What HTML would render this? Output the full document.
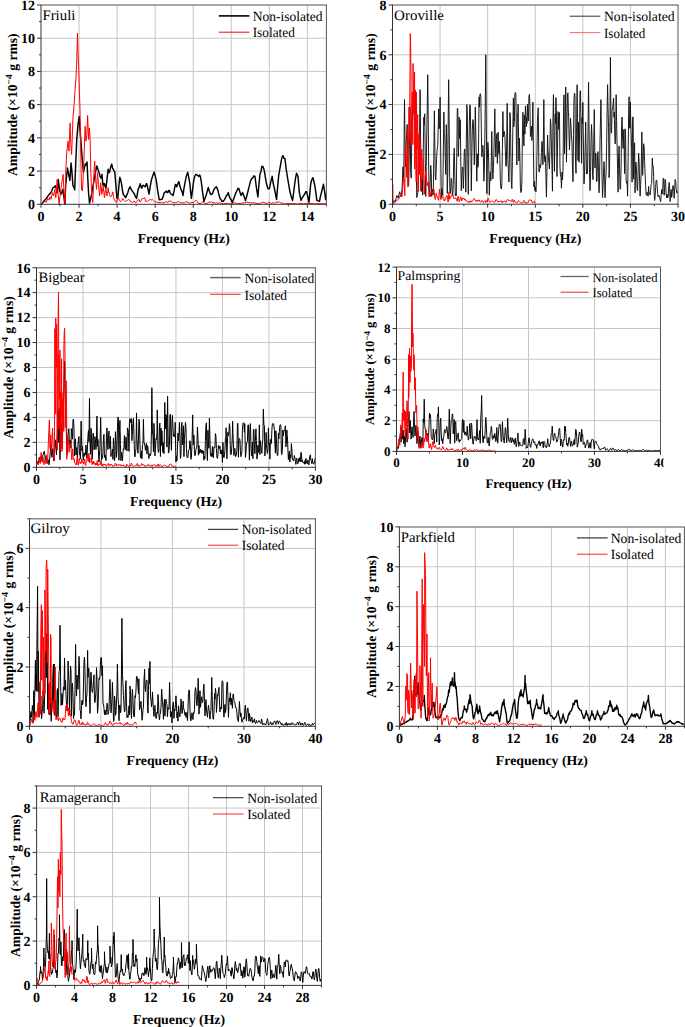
<!DOCTYPE html>
<html><head><meta charset="utf-8"><style>
html,body{margin:0;padding:0;background:#fff;overflow:hidden;}
svg{display:block;}
text{font-family:"Liberation Serif",serif;fill:#000;text-rendering:geometricPrecision;}
.tk{font-weight:bold;}
.ax{font-weight:bold;}
</style></head><body>
<svg width="685" height="1027" viewBox="0 0 685 1027">
<rect width="685" height="1027" fill="#fff"/>
<clipPath id="c0"><rect x="41" y="4" width="285.4" height="200.8"/></clipPath>
<path d="M79.05 5V204.3M117.11 5V204.3M155.16 5V204.3M193.21 5V204.3M231.27 5V204.3M269.32 5V204.3M307.37 5V204.3M41 171.08H326.4M41 137.87H326.4M41 104.65H326.4M41 71.43H326.4M41 38.22H326.4" stroke="#c6c6c6" stroke-width="1" fill="none"/>
<text x="42.4" y="19.6" class="lg" style="font-size:14.5px" textLength="33" lengthAdjust="spacingAndGlyphs">Friuli</text>
<path d="M218.8 15.9H249.4" stroke="#000" stroke-width="1.6"/>
<path d="M218.8 32.2H249.4" stroke="#f00" stroke-width="1.0"/>
<text x="252.7" y="20.9" class="lg" style="font-size:14px" textLength="69.8" lengthAdjust="spacingAndGlyphs">Non-isolated</text>
<text x="252.7" y="37.4" class="lg" style="font-size:14px" textLength="42.1" lengthAdjust="spacingAndGlyphs">Isolated</text>
<g clip-path="url(#c0)"><path d="M41 204.3 41.57 203.84 42.14 203.64 44.14 200.65 46.14 198.65 48.23 195.54 50.32 193.34 51.65 191.09 52.99 187.69 54.22 187.18 55.46 185.7 56.22 188.45 56.98 192.84 57.65 187.41 58.31 179.55 58.89 184.3 59.46 190.68 60.22 191.93 60.98 194.34 61.93 191.91 62.88 189.35 63.55 194.69 64.21 199.32 64.5 201.91 64.78 203.97 65.26 194.61 65.73 184.37 66.59 176.41 67.45 168.09 68.68 174.31 69.92 180.55 70.49 171.56 71.06 162.95 72.01 172.64 72.96 185.7 73.82 187.1 74.68 189.85 75.72 164.01 76.77 139.2 78.01 124.34 79.24 116.44 80 129.84 80.77 139.2 82.1 157.38 83.43 172.25 84.38 167.66 85.33 163.94 86.19 164.91 87.04 161.95 87.81 178.86 88.57 192.84 89.04 197.97 89.52 203.14 90.56 198.78 91.61 194.34 92.47 188.44 93.32 184.37 95.04 174.72 96.75 165.93 96.97 166.41 97.19 167.01 98.28 170.3 99.38 173.58 100.11 176.59 100.84 177.96 101.42 177.72 102.01 174.31 102.52 180.69 103.03 185.26 103.76 184.03 104.49 183.8 105.22 186.72 105.95 188.18 107.04 179.08 108.14 169.2 108.87 172.49 109.6 172.12 110.69 166.82 111.79 164.09 112.52 168.03 113.25 169.2 113.98 171.16 114.71 171.39 115.8 183.92 116.9 198.39 117.48 196.92 118.07 195.47 118.94 185.51 119.82 177.23 120.55 179.37 121.28 182.34 122.01 186.88 122.74 192.55 123.47 194.76 124.2 195.47 124.93 196.5 125.66 197.66 126.75 195.1 127.85 192.55 128.94 188.83 130.04 186.72 131.13 189.21 132.23 191.09 133.32 192.36 134.42 194.01 135.51 196.93 136.61 198.39 137.34 194.22 138.07 189.64 139.16 187.14 140.26 183.8 140.99 186.85 141.72 188.18 142.45 185.96 143.18 185.26 144.27 186.28 145.36 186.72 146.09 184.05 146.82 183.8 147.92 188.7 149.01 194.01 150.11 187.2 151.2 180.88 152.66 176.05 154.12 172.12 155.22 175.93 156.31 180.88 157.77 191.1 159.23 199.85 160.69 199.57 162.15 199.12 163.25 196.28 164.34 192.55 165.44 192.02 166.53 191.09 167.26 192.63 167.99 192.55 168.72 190.51 169.45 190.36 170.18 192.75 170.91 194.01 172.01 194.44 173.1 195.47 174.2 190.43 175.29 184.53 176.02 184.69 176.75 186.72 177.85 183.74 178.94 181.61 180.04 186.54 181.13 189.64 182.08 191.89 183.03 195.47 183.91 188.67 184.78 183.8 186.24 176.7 187.7 172.12 188.8 177.74 189.89 183.8 190.62 191.82 191.35 198.39 192.5 190.3 193.65 180.88 194.74 176.25 195.84 174.31 196.93 174.86 198.03 175.77 198.76 176.46 199.49 175.04 200.22 176.01 200.95 179.42 201.68 184.9 202.41 191.09 203.14 196.09 203.87 201.31 204.96 198.58 206.06 195.47 207.15 191.64 208.25 187.45 209.34 191.27 210.44 194.01 211.53 194.5 212.63 193.28 213.72 189.95 214.82 188.18 215.55 187.52 216.28 186.72 217.01 188.07 217.74 189.64 218.83 194.34 219.93 198.39 221.02 199.51 222.12 201.31 223.21 201.2 224.31 199.85 225.4 197.86 226.5 195.47 227.37 194.87 228.25 192.55 229.2 196.12 230.15 198.39 231.24 199.98 232.34 202.77 233.07 200.38 233.8 198.39 234.89 195.6 235.99 192.55 237.08 190.31 238.18 188.18 238.91 188.83 239.64 191.09 240.36 193.58 241.09 195.47 241.82 193.85 242.55 192.55 244.01 196.27 245.47 200.58 246.57 196.8 247.66 192.55 249.12 186.67 250.58 180.88 251.68 178.62 252.77 177.96 253.87 175.93 254.96 176.5 256.42 187.55 257.88 196.93 258.98 184.16 260.07 173.58 260.95 171.78 261.82 166.28 262.77 166.37 263.72 168.47 264.82 173.63 265.91 180.88 267.01 185.82 268.1 188.91 268.83 188.72 269.56 188.18 270.88 181.39 272.19 176.34 273.07 182.75 273.94 186.41 275.26 192.73 276.57 199.54 277.66 186.59 278.76 175.03 280.07 167.53 281.39 160.14 282.17 156.8 282.96 155.59 283.93 158.3 284.89 158.39 286.2 169.2 287.52 177.65 288.83 185.44 290.15 192.54 291.37 197 292.6 200.42 293.56 193.27 294.52 185.53 295.53 178.07 296.54 173.27 297.28 174.78 298.03 176.78 298.69 185.07 299.34 192.54 300.22 196.85 301.09 200.42 301.97 198.01 302.85 196.92 303.94 195.26 305.04 193.42 305.82 191.61 306.61 191.66 307.79 196.89 308.98 202.17 309.85 192.94 310.73 183.78 311.82 179.57 312.92 177.65 314.01 181.8 315.11 187.29 315.98 193.71 316.86 200.42 318.17 200.95 319.49 201.3 320.36 196.77 321.24 193.42 322.33 189.02 323.43 184.22 324.52 191.04 325.62 199.54 326.28 195.91 326.93 190.79" stroke="#000" stroke-width="1.45" fill="none" stroke-linejoin="round"/><path d="M41 204.3 42.9 202.97 44.81 200.98 46.33 202.31 47.66 198.49 48.99 200.15 49.94 196.83 51.08 199.32 52.42 192.67 53.56 196 54.7 189.35 55.84 197.66 57.17 179.39 58.12 194.34 59.08 204.3 60.41 192.67 61.55 184.37 63.07 174.41 64.21 196 65.16 204.3 65.92 167.76 66.69 152.81 68.02 141.19 68.97 151.15 70.11 122.92 70.87 144.51 71.63 154.48 72.96 117.94 74.11 104.65 75.06 89.7 76.01 78.08 76.58 64.79 77.53 33.23 78.1 54.82 78.67 66.45 79.43 91.36 80 109.63 80.77 154.48 81.53 189.35 82.48 191.01 83.81 162.78 85.14 126.24 85.9 141.19 86.85 134.55 87.62 115.45 88.57 139.53 89.33 127.9 90.09 137.87 90.85 172.74 91.61 194.34 92.75 202.64 93.89 174.41 94.66 161.12 95.61 179.39 96.56 189.35 97.51 172.74 98.46 184.37 99.6 196 100.74 182.71 101.89 194.34 103.22 186.03 103.6 191.13 103.98 191.08 104.36 197.66 104.8 195.81 105.25 190.33 105.69 189.35 106.13 189.19 106.58 194.38 107.02 196 107.4 193.59 107.78 191.33 108.16 187.69 108.61 192.69 109.05 192.25 109.5 194.34 110 196.21 110.51 196.63 111.02 196 111.53 196.25 112.03 194.99 112.54 191.84 112.98 192.29 113.43 196.51 113.87 198.32 114.32 200.03 114.76 199.82 115.2 200.98 115.65 201.34 116.09 201.88 116.54 202.81 117.04 199.69 117.55 200.05 118.06 196.83 118.69 198.69 119.33 200.29 119.96 200.98 120.91 201.59 121.86 200.38 122.81 198.49 123.77 199.93 124.72 201 125.67 201.81 126.62 200.67 127.57 200.29 128.52 199.32 129.47 199.83 130.43 201.71 131.38 201.81 132.33 202.42 133.28 201.69 134.23 200.98 134.86 202.52 135.5 202.38 136.13 202.64 136.77 201.9 137.4 200.4 138.04 200.15 138.99 199.37 139.94 201.94 140.89 200.98 141.84 198.72 142.79 198.47 143.74 198.32 144.7 197.69 145.65 201.43 146.6 201.31 147.55 201.26 148.5 200.53 149.45 200.15 150.4 199.1 151.35 200.2 152.31 199.32 153.26 200.3 154.21 201.57 155.16 201.81 156.43 202.2 157.7 202.34 158.97 202.64 160.23 202.62 161.5 202.47 162.77 202.97 164.04 203.1 165.31 201.91 166.58 201.81 167.84 202.53 169.11 200.97 170.38 200.98 171.65 201.63 172.92 202.89 174.19 202.64 175.46 202.72 176.72 202.77 177.99 201.31 179.26 202.16 180.53 202.62 181.8 202.97 183.07 202.61 184.33 203.13 185.6 201.81 186.87 201.61 188.14 202.74 189.41 202.64 190.68 203.18 191.94 202.12 193.21 202.97 194.16 201.8 195.12 200.67 196.07 200.15 197.02 201.18 197.97 202.96 198.92 203.47 200.19 203.57 201.46 203.03 202.73 201.81 204 202.7 205.26 203.54 206.53 203.47 207.8 203.12 209.07 201.77 210.34 202.31 211.61 201.92 212.87 202.91 214.14 202.64 215.41 203.28 216.68 202.69 217.95 203.47 219.22 202.62 220.48 203.16 221.75 203.3 223.66 203.77 225.56 203.5 227.46 203.47 229.36 203.99 231.27 203.47 233.17 203.3 235.07 202.69 236.97 203.91 238.88 203.47 240.78 203.4 242.68 202.9 244.59 202.97 246.49 202.01 248.39 202.5 250.29 202.64 252.2 202.97 254.1 202.8 256 203.3 257.9 203.45 259.81 203.62 261.71 202.64 263.61 202.23 265.51 203.14 267.42 203.3 269.32 202.31 271.22 203.46 273.13 202.64 274.39 203.52 275.66 202.39 276.93 202.31 278.2 202.15 279.47 201.93 280.74 203.14 282.64 203.01 284.54 204.05 286.44 203.47 288.98 203.43 291.52 203.76 294.05 203.64 297.23 204.19 300.4 203.25 303.57 203.8 306.74 203.47 309.91 203.33 313.08 203.8 317.52 203.69 321.96 203.62 326.4 203.97" stroke="#f00" stroke-width="1.0" fill="none" stroke-linejoin="round"/></g>
<path d="M40.5 5H326.9" stroke="#8a8a8a" stroke-width="1.5" fill="none"/>
<path d="M326.4 5V204.3" stroke="#555" stroke-width="1" fill="none"/>
<path d="M41 5V204.3M40.5 204.3H326.9" stroke="#333" stroke-width="1" fill="none"/>
<path d="M41 204.3v3.5M79.05 204.3v3.5M117.11 204.3v3.5M155.16 204.3v3.5M193.21 204.3v3.5M231.27 204.3v3.5M269.32 204.3v3.5M307.37 204.3v3.5M60.03 204.3v2M98.08 204.3v2M136.13 204.3v2M174.19 204.3v2M212.24 204.3v2M250.29 204.3v2M288.35 204.3v2M326.4 204.3v2M41 204.3h-4M41 171.08h-4M41 137.87h-4M41 104.65h-4M41 71.43h-4M41 38.22h-4M41 5h-4M41 187.69h-2M41 154.48h-2M41 121.26h-2M41 88.04h-2M41 54.82h-2M41 21.61h-2" stroke="#333" stroke-width="1" fill="none"/>
<text x="41" y="221.1" class="tk" style="font-size:14px" text-anchor="middle">0</text>
<text x="79.05" y="221.1" class="tk" style="font-size:14px" text-anchor="middle">2</text>
<text x="117.11" y="221.1" class="tk" style="font-size:14px" text-anchor="middle">4</text>
<text x="155.16" y="221.1" class="tk" style="font-size:14px" text-anchor="middle">6</text>
<text x="193.21" y="221.1" class="tk" style="font-size:14px" text-anchor="middle">8</text>
<text x="231.27" y="221.1" class="tk" style="font-size:14px" text-anchor="middle">10</text>
<text x="269.32" y="221.1" class="tk" style="font-size:14px" text-anchor="middle">12</text>
<text x="307.37" y="221.1" class="tk" style="font-size:14px" text-anchor="middle">14</text>
<text x="35" y="209.1" class="tk" style="font-size:14px" text-anchor="end">0</text>
<text x="35" y="175.88" class="tk" style="font-size:14px" text-anchor="end">2</text>
<text x="35" y="142.67" class="tk" style="font-size:14px" text-anchor="end">4</text>
<text x="35" y="109.45" class="tk" style="font-size:14px" text-anchor="end">6</text>
<text x="35" y="76.23" class="tk" style="font-size:14px" text-anchor="end">8</text>
<text x="35" y="43.02" class="tk" style="font-size:14px" text-anchor="end">10</text>
<text x="35" y="9.8" class="tk" style="font-size:14px" text-anchor="end">12</text>
<text x="183.7" y="242.6" class="ax" style="font-size:13.8px" text-anchor="middle">Frequency (Hz)</text>
<text transform="translate(16.8 104.65) rotate(-90)" class="ax" style="font-size:13.65px" text-anchor="middle">Amplitude (×10<tspan font-size="9.55" dy="-5.05">−4</tspan><tspan dy="5.05"> g rms)</tspan></text>
<clipPath id="c1"><rect x="392.5" y="4" width="285.5" height="200.7"/></clipPath>
<path d="M440.08 5V204.2M487.67 5V204.2M535.25 5V204.2M582.83 5V204.2M630.42 5V204.2M392.5 154.4H678M392.5 104.6H678M392.5 54.8H678" stroke="#c6c6c6" stroke-width="1" fill="none"/>
<text x="394.1" y="20" class="lg" style="font-size:14.5px" textLength="49.9" lengthAdjust="spacingAndGlyphs">Oroville</text>
<path d="M569.7 16.2H600.3" stroke="#333" stroke-width="1.0"/>
<path d="M569.7 32.6H600.3" stroke="#f66" stroke-width="1.0"/>
<text x="604" y="21.3" class="lg" style="font-size:14px" textLength="70.6" lengthAdjust="spacingAndGlyphs">Non-isolated</text>
<text x="604" y="37.6" class="lg" style="font-size:14px" textLength="41.4" lengthAdjust="spacingAndGlyphs">Isolated</text>
<g clip-path="url(#c1)"><path d="M392.5 204.2 393.93 200.46 395.36 201.71 396.78 195.48 398.21 197.97 399.64 191.75 401.06 196.73 402.02 189.26 402.97 166.85 403.73 181.79 404.49 99.62 405.35 166.85 406.3 141.95 407.16 124.52 407.92 174.32 408.2 184.28 408.7 185.53 409.2 156.83 409.71 121.14 409.92 107.09 410.21 128.5 410.71 172.51 411.21 178.09 411.71 142.66 412.21 122.87 412.71 119.1 413.21 100.36 413.71 95.87 414.21 95.93 414.71 96.69 415.21 97.6 415.34 92.15 415.72 111.85 416.22 162.07 416.72 197.54 417.22 195.9 417.72 192.56 418.22 186.73 418.72 169.94 419.22 160.79 419.72 118.62 420.1 89.66 420.22 99.8 420.72 149.71 421.23 191.08 421.73 191.49 422.23 176.69 422.73 195.09 423.23 152.28 423.73 122.32 423.9 117.05 424.23 124.88 424.73 113.83 425.23 155.82 425.73 196.51 426.23 166.9 426.73 135.04 427.24 108.64 427.71 74.72 427.74 76.59 428.24 119.63 428.74 172.59 429.24 195.03 429.74 193.7 430.24 180.98 430.74 165.3 431.24 173.62 431.74 196.35 432.24 189.24 432.75 194.25 433.25 194.87 433.75 159.36 434.25 120.58 434.37 110.82 434.75 140.85 435.25 176.22 435.75 180.02 436.25 169.51 436.75 154.14 437.25 148.74 437.75 145.19 438.26 125.23 438.76 108.93 439.26 128.71 439.76 121.77 440.08 97.13 440.26 111.62 440.76 154.9 441.26 197.6 441.76 188.51 442.26 192.24 442.76 195.51 443.26 158.1 443.76 122.09 443.89 112.07 444.27 134.47 444.77 136.08 445.27 159.26 445.77 174.43 446.27 124.66 446.77 140.89 447.27 193.55 447.77 174.35 448.27 113.08 448.65 79.7 448.77 89.03 449.27 133.52 449.78 187.57 450.28 193.48 450.78 186.66 451.28 178.33 451.78 181 452.28 196.15 452.78 194.14 453.28 184.67 453.78 157.15 454.28 148.16 454.78 171.74 455.28 195.61 455.79 193.36 456.29 195.54 456.79 152.37 457.29 108.57 457.79 108.5 458.29 156.58 458.79 140.66 459.12 117.05 459.29 129.97 459.79 138.5 460.29 119.81 460.79 162.23 461.3 190.88 461.8 174.93 462.3 166.88 462.8 167.94 463.3 188.48 463.8 174.72 464.3 150.86 464.8 148.97 465.3 166.92 465.8 192.17 466.3 140.09 466.81 104.54 467.31 111.89 467.81 158.6 468.31 194.35 468.81 158.41 469.31 124.01 469.81 104.79 470.31 105.96 470.81 138.74 471.31 190.81 471.81 157.42 472.31 130.27 472.82 119.61 473.32 122.12 473.82 141.4 474.32 164.77 474.82 139.12 475.29 107.09 475.32 108.43 475.82 131.9 476.32 161.53 476.82 181.28 477.32 153.73 477.82 167.42 478.33 165.61 478.83 118.03 479.1 97.13 479.33 107.09 479.83 95.02 480.33 93.7 480.83 96.45 481.33 129.92 481.83 156.79 482.33 152.2 482.83 145.39 483.33 153.61 483.83 181.19 484.34 172.65 484.84 138.34 485.34 96.07 485.76 54.8 485.84 62.74 486.34 123.12 486.84 193.77 487.34 160.79 487.84 142.27 488.34 148.16 488.84 169.2 489.34 195.19 489.85 179.09 490.35 171.87 490.85 180.72 491.35 156.98 491.76 131.49 491.85 136.77 492.35 167.33 492.85 179.03 493.35 169.66 493.85 155.09 494.35 133.01 494.8 108.83 494.85 111.63 495.36 142.83 495.86 157.01 496.36 139.57 496.86 133.61 497.36 163.39 497.86 149.09 498.13 132.24 498.36 144.85 498.86 153.44 499.36 141.37 499.86 159.51 500.36 181.7 500.86 188.02 501.37 189.01 501.87 183.62 502.37 149.58 502.87 113.43 502.89 111.57 503.37 136.91 503.87 131.72 504.37 131.58 504.87 136.53 505.37 149.69 505.87 166.18 506.37 166.11 506.88 128.91 507.18 103.36 507.38 120.55 507.88 159.46 508.38 169.66 508.88 182.05 509.38 159.98 509.88 112.55 510.38 117.96 510.88 154.26 511.38 184.44 511.88 188.59 512.38 161.7 512.89 125.5 513.39 97.93 513.89 126.83 514.31 118.79 514.39 120.19 514.89 94.04 515.39 92.4 515.89 93.95 516.39 141.07 516.89 165.01 517.39 113.85 517.89 114.46 518.12 104.35 518.4 123.36 518.9 161 519.4 138 519.9 156.43 520.4 188.31 520.9 192.6 521.4 191.72 521.9 180.91 522.4 136.45 522.9 112.32 523.4 129.59 523.91 145.83 524.4 115.06 524.41 115.39 524.91 134.22 525.41 106.21 525.91 117.23 526.41 126.6 526.68 117.8 526.91 123.48 527.41 104.36 527.91 117.64 528.41 120.94 528.91 96.77 529.41 94.27 529.92 104.23 530.42 136.47 530.92 134.81 531.42 126.16 531.92 140.42 532.42 133.17 532.87 102.11 532.92 106 533.42 150.69 533.92 186.84 534.42 181.25 534.92 190.64 535.43 186.83 535.93 191.87 536.43 180.22 536.93 155.75 537.43 120.74 537.93 113.01 538.11 107.84 538.43 122.41 538.93 171.35 539.43 172.15 539.93 164.53 540.43 167.61 540.93 164.51 541.44 152.55 541.94 141.38 542.44 145.38 542.94 164.68 543.44 134.08 543.82 99.62 543.94 109.56 544.44 156.09 544.94 161.99 545.44 155.68 545.94 177.53 546.44 197.16 546.95 171.26 547.45 143.46 547.62 134.98 547.95 148.75 548.45 158.06 548.95 163.54 549.45 169.02 549.95 145.97 550.45 118.91 550.95 125 551.45 147.33 551.95 165.67 552.46 191.21 552.96 120.93 553.46 94.54 553.96 131.57 554.46 171.32 554.96 131.46 555.24 114.06 555.46 123.36 555.96 97.61 556.46 115.3 556.96 176.53 557.46 150.28 557.96 117.83 558.09 111.57 558.47 129.26 558.97 114.48 559.47 112.5 559.97 167.09 560.47 176.2 560.97 177.39 561.47 188.21 561.97 172.11 562.47 179.78 562.97 170.89 563.47 119.02 563.98 94.8 564.48 153.75 564.98 140.33 565.48 99.67 565.7 86.92 565.98 108.14 566.48 162.19 566.98 124.3 567.48 93.37 567.98 92.76 568.48 115.3 568.56 113.31 568.98 133.06 569.48 149.95 569.99 133.39 570.49 117.92 570.99 125.52 571.49 137 571.99 143.14 572.49 167.91 572.99 181.67 573.49 135.61 573.99 98.14 574.49 93.02 574.99 95.71 575.5 161.62 576 173.4 576.5 133.29 577 94.04 577.12 84.68 577.5 118.46 578 160.39 578.5 122.09 579 162.23 579.5 136.96 580 91.5 580.5 90.61 581.01 123.12 581.51 163.37 582.01 117.74 582.51 124.16 582.83 102.36 583.01 116.55 583.51 149.82 584.01 183.85 584.51 174.37 585.01 153.94 585.51 131.43 585.69 122.03 586.01 144.09 586.51 174.06 587.02 172.69 587.52 173.42 588.02 131.14 588.52 84.38 588.54 82.19 589.02 122.6 589.52 172.54 590.02 190.61 590.52 174.81 591.02 139.44 591.52 124.49 592.02 137.67 592.53 174.28 593.03 179.75 593.53 157.23 594.03 126.76 594.25 109.58 594.53 131.82 595.03 167.87 595.53 153.01 596.03 154.45 596.53 181.4 597.03 181.24 597.53 154.82 598.03 151.63 598.54 172.53 599.04 192.76 599.54 178.95 600.04 140.53 600.54 116.33 600.91 99.62 601.04 105.56 601.54 139.13 602.04 177.11 602.54 197.47 603.04 186.57 603.54 172.19 604.05 161.7 604.55 172.85 605.05 197.8 605.55 180.57 606.05 174.17 606.55 150.96 607.05 113.54 607.55 85.89 607.58 84.68 608.05 107.9 608.55 127.19 609.05 177.69 609.56 169.21 610.06 105.74 610.43 57.29 610.56 73.05 611.06 131.65 611.56 133.19 612.06 110.7 612.56 107.29 613.06 104.64 613.56 97.97 614.06 117.39 614.24 112.07 614.56 125.95 615.06 143.92 615.57 142.02 616.07 100.63 616.14 94.64 616.57 120.62 617.07 143.17 617.57 168.38 618.07 192.13 618.57 157.11 619.07 146.01 619.57 169.72 620.07 189.31 620.57 188.83 621.08 166.31 621.58 125.6 622.08 117.01 622.58 137.97 623.08 148.47 623.58 135.32 623.75 129.5 624.08 143.86 624.58 173.57 625.08 128.82 625.58 134.15 626.08 180 626.58 183.2 627.09 181.48 627.59 196.24 628.09 163.39 628.59 113.62 629.09 96.76 629.59 128.07 630.09 128.13 630.42 102.11 630.59 114.63 631.09 131.89 631.59 147.79 632.09 182.1 632.6 117.72 633.1 116.82 633.6 179.13 634.1 151.57 634.6 142.77 635.1 192.75 635.6 163.33 636.1 162.11 636.6 174.41 637.1 188.48 637.6 190.63 638.11 170.14 638.61 153.23 639.11 161.45 639.61 181.89 640.11 196.14 640.61 184.62 641.11 174.65 641.61 146.17 641.84 131.99 642.11 149.17 642.61 175.37 643.11 162.79 643.61 143.74 644.12 146.72 644.62 161.55 645.12 174.64 645.62 185.65 646.12 194.22 646.62 195.39 647.12 192.17 647.62 193.52 648.12 196.19 648.62 186.43 649.12 193.65 649.63 193.08 650.13 194.91 650.63 190.44 651.13 184.61 651.63 183.58 652.13 163.81 652.31 158.13 652.63 165.73 653.13 165.48 653.63 176.35 654.13 191.88 654.63 200.46 655.13 196.41 655.64 187.3 656.14 180.27 656.64 180.17 657.14 185.69 657.64 193.24 658.14 196.75 658.64 195.71 659.14 195.35 659.64 197.76 660.14 199.93 660.64 201.63 661.15 195.75 661.65 189.54 662.15 194 662.65 193.04 663.15 178.15 663.65 178.61 664.15 195.26 664.65 188.24 665.15 179.32 665.65 183.08 666.15 194.16 666.66 198.01 667.16 194.14 667.66 197.84 668.16 197.1 668.66 186.83 669.16 182.42 669.66 188.93 670.16 201.61 670.66 191.68 671.16 189.52 671.66 197.36 672.16 193.88 672.67 187.08 673.17 185.55 673.67 187.66 674.17 198.31 674.67 189.04 675.17 179.43 675.67 181.39 676.17 188.72 676.67 192.82 677.17 193.17 677.67 192.57 678.18 190.87" stroke="#111" stroke-width="0.95" fill="none" stroke-linejoin="round"/><path d="M392.5 202.95 392.69 184.03 393.07 204.2 394.4 202.95 395.83 201.71 397.26 200.22 398.69 199.22 400.87 193.74 402.02 196.73 403.54 176.81 404.4 186.77 404.8 195.68 405.35 146.93 405.71 151.16 406.3 159.38 406.67 177.44 407.21 133.4 407.73 129.5 407.94 186.93 408.95 108.81 408.96 107.09 409.44 141.06 410.3 33.64 410.5 40.81 411.06 74.72 411.2 145.15 411.72 114.56 411.99 101.11 412.29 92.15 412.8 144.62 413.06 63.51 413.55 104.35 413.82 114.56 414.58 72.23 414.62 169.09 415.25 89.79 415.34 129.5 416.23 182.03 416.29 92.15 416.89 125.99 417.05 149.42 417.72 114.56 417.8 184.96 418.39 191.75 418.45 137.17 419.34 131.99 419.45 174.46 420.01 140.24 420.57 184.28 420.67 191.09 421.53 153.71 421.81 149.42 422.26 179.47 422.76 174.32 423.35 163.48 423.52 157.64 424.09 189.68 424.38 194.24 425.08 176.98 425.81 171.83 427.05 185.77 428.19 181.79 428.85 191.75 429.14 196.72 429.64 192.12 430.14 196.92 430.64 194 431.14 191.05 431.64 191.78 432.14 193.64 432.65 191.44 433.15 190.14 433.65 188.7 434.15 190.83 434.65 196.94 435.15 199.51 435.65 197.83 436.15 194.1 436.28 192.99 436.65 196.39 437.15 196.55 437.65 196.55 438.15 199.92 438.66 200.21 439.16 192.92 439.42 189.26 439.66 191.7 440.16 194.37 440.66 199.22 441.16 199.47 441.66 199.44 442.16 197.64 442.66 196.48 443.16 197.15 443.66 197.22 444.17 201.05 444.67 199.64 445.17 200.11 445.67 199.63 446.17 196.99 446.67 195.67 447.17 195.44 447.67 198.89 448.17 202.04 448.67 194.89 448.93 191.75 449.17 194.67 449.68 199.28 450.18 198.68 450.68 197.2 451.18 195.52 451.68 195.65 452.18 195.63 452.68 194.78 453.18 195.72 453.68 198.43 454.18 198.96 454.68 198.76 455.18 197.8 455.69 197.38 456.19 199.23 456.69 199.31 457.19 201.3 457.69 197.49 458.19 196.27 458.69 198.88 459.19 201.65 459.69 201.26 460.19 198.01 460.69 196.9 461.2 197.93 461.7 200.84 462.2 200.17 462.7 198.21 463.2 198.89 463.7 197.86 464.2 198.54 464.7 200.11 465.2 199.22 465.7 200.61 466.2 200.26 466.7 200.69 467.21 201.9 467.71 201.92 468.21 202.02 468.71 202.51 469.21 201.03 469.71 202.21 470.21 202.23 470.71 200.96 471.21 200.86 471.71 201.9 472.21 201.59 472.72 201.04 473.22 199.75 473.72 198.52 474.22 199.12 474.72 199.15 475.22 200.18 475.72 201.35 476.22 201.02 476.72 200.37 477.22 201.68 477.72 200.35 478.23 200.15 478.73 200.74 479.23 199.87 479.73 201.37 480.23 202.37 480.73 202.02 481.23 201.7 481.73 200.21 482.23 200.79 482.73 201.59 483.23 202.87 483.73 201.51 484.24 201.21 484.74 200.99 485.24 200.55 485.74 202.62 486.24 201.05 486.74 200.5 487.24 201.96 487.74 199.07 488.24 198.06 488.74 199.42 489.24 201.8 489.75 202.19 490.25 202.25 490.75 201.47 491.25 201.11 491.75 201.48 492.25 200.93 492.75 201.05 493.25 201.31 493.75 201.47 494.25 202.67 494.75 202.01 495.25 201.16 495.76 199.76 496.26 199.37 496.76 199.95 497.26 201.08 497.76 202.14 498.26 201.82 498.76 201 499.26 201.57 499.76 201.38 500.26 201.28 500.76 201.59 501.27 200.75 501.77 200.98 502.27 202.9 502.77 201.5 503.27 201.67 503.77 201.86 504.27 201.16 504.77 200.73 505.27 201.79 505.77 202.55 506.27 202.17 506.78 200.59 507.28 199.59 507.78 199.25 508.28 200.13 508.78 200.99 509.28 200.45 509.78 200.28 510.28 201.16 510.78 201.61 511.28 201.6 511.78 200.48 512.28 199.24 512.79 200.67 513.29 202.38 513.79 201.5 514.29 199.93 514.79 201.94 515.29 202.42 515.79 202.21 516.29 202.67 516.79 203.12 517.29 202.37 517.79 201.21 518.3 200.93 518.8 200.88 519.3 201.09 519.8 201.68 520.3 202.52 520.8 202.66 521.3 202.93 521.8 203.16 522.3 202.78 522.8 203.05 523.3 201.21 523.8 200.32 524.31 201.62 524.81 201.91 525.31 203.08 525.81 202.17 526.31 203.12 526.81 202.46 527.31 203.03 527.81 202.9 528.31 202.2 528.81 200.77 529.31 199.8 529.82 200.14 530.32 200.28 530.82 199.84 531.32 200.03 531.82 201.74 532.32 202.91 532.82 202.17 533.32 202.51 533.82 201.56 534.32 201.07 534.82 202.58 535.33 202.32" stroke="#f00" stroke-width="1.0" fill="none" stroke-linejoin="round"/></g>
<path d="M392 5H678.5" stroke="#8a8a8a" stroke-width="1.5" fill="none"/>
<path d="M678 5V204.2" stroke="#555" stroke-width="1" fill="none"/>
<path d="M392.5 5V204.2M392 204.2H678.5" stroke="#333" stroke-width="1" fill="none"/>
<path d="M392.5 204.2v3.5M440.08 204.2v3.5M487.67 204.2v3.5M535.25 204.2v3.5M582.83 204.2v3.5M630.42 204.2v3.5M678 204.2v3.5M416.29 204.2v2M463.88 204.2v2M511.46 204.2v2M559.04 204.2v2M606.62 204.2v2M654.21 204.2v2M392.5 204.2h-4M392.5 154.4h-4M392.5 104.6h-4M392.5 54.8h-4M392.5 5h-4M392.5 179.3h-2M392.5 129.5h-2M392.5 79.7h-2M392.5 29.9h-2" stroke="#333" stroke-width="1" fill="none"/>
<text x="392.5" y="221" class="tk" style="font-size:14px" text-anchor="middle">0</text>
<text x="440.08" y="221" class="tk" style="font-size:14px" text-anchor="middle">5</text>
<text x="487.67" y="221" class="tk" style="font-size:14px" text-anchor="middle">10</text>
<text x="535.25" y="221" class="tk" style="font-size:14px" text-anchor="middle">15</text>
<text x="582.83" y="221" class="tk" style="font-size:14px" text-anchor="middle">20</text>
<text x="630.42" y="221" class="tk" style="font-size:14px" text-anchor="middle">25</text>
<text x="678" y="221" class="tk" style="font-size:14px" text-anchor="middle">30</text>
<text x="386.5" y="209" class="tk" style="font-size:14px" text-anchor="end">0</text>
<text x="386.5" y="159.2" class="tk" style="font-size:14px" text-anchor="end">2</text>
<text x="386.5" y="109.4" class="tk" style="font-size:14px" text-anchor="end">4</text>
<text x="386.5" y="59.6" class="tk" style="font-size:14px" text-anchor="end">6</text>
<text x="386.5" y="9.8" class="tk" style="font-size:14px" text-anchor="end">8</text>
<text x="535.25" y="242.5" class="ax" style="font-size:13.8px" text-anchor="middle">Frequency (Hz)</text>
<text transform="translate(374.9 104.6) rotate(-90)" class="ax" style="font-size:13.65px" text-anchor="middle">Amplitude (×10<tspan font-size="9.55" dy="-5.05">−4</tspan><tspan dy="5.05"> g rms)</tspan></text>
<clipPath id="c2"><rect x="36.5" y="266.7" width="278.9" height="201.1"/></clipPath>
<path d="M82.98 267.7V467.3M129.47 267.7V467.3M175.95 267.7V467.3M222.43 267.7V467.3M268.92 267.7V467.3M36.5 442.35H315.4M36.5 417.4H315.4M36.5 392.45H315.4M36.5 367.5H315.4M36.5 342.55H315.4M36.5 317.6H315.4M36.5 292.65H315.4" stroke="#c6c6c6" stroke-width="1" fill="none"/>
<text x="38.6" y="281.8" class="lg" style="font-size:14.5px" textLength="46" lengthAdjust="spacingAndGlyphs">Bigbear</text>
<path d="M210.2 277.6H240.6" stroke="#666" stroke-width="1.5"/>
<path d="M210.2 294.3H240.6" stroke="#f22" stroke-width="1.0"/>
<text x="244.5" y="282.9" class="lg" style="font-size:14px" textLength="69.8" lengthAdjust="spacingAndGlyphs">Non-isolated</text>
<text x="244.5" y="299.7" class="lg" style="font-size:14px" textLength="42.6" lengthAdjust="spacingAndGlyphs">Isolated</text>
<g clip-path="url(#c2)"><path d="M36.5 464.81 37.43 461.06 38.36 463.56 39.29 457.32 40.22 462.31 41.15 456.07 42.08 461.06 43.01 454.82 44.4 451.08 45.33 459.81 46.26 456.07 47.19 463.56 48.12 459.81 49.05 464.81 49.98 456.07 50.91 443.6 51.84 457.32 52.77 448.59 53.7 461.06 54.63 452.33 55.56 439.86 56.49 454.82 57.42 429.88 57.88 409.92 58.53 442.35 59.28 408.67 59.93 459.81 60.67 436.11 61.42 423.64 62.07 448.59 63 417.4 63.93 386.21 64.58 361.26 65.32 398.69 66.25 429.88 66.99 454.82 67.92 434.87 68.85 428.63 69.5 444.85 69.97 443.69 70.47 440.47 70.97 448.24 71.36 428.63 71.47 430.71 71.97 433.87 72.47 439.17 72.97 419.91 73.47 419.12 73.97 427.78 74.47 455.87 74.97 441.36 75.47 438.84 75.97 455.03 76.47 447.53 76.97 453.65 77.47 458.04 77.97 444.35 78.46 439.28 78.96 436.58 79.46 454.59 79.96 454.8 80.46 459.1 80.96 428.2 81.12 421.14 81.46 436.18 81.96 450.85 82.46 446.5 82.96 456.93 83.46 460.18 83.96 452.79 84.46 456.22 84.96 453.78 85.46 454.54 85.96 445.06 86.46 453.02 86.96 458.37 87.46 446.93 87.96 436.32 88.46 430.49 88.96 441.84 89.46 401.15 89.49 398.44 89.96 440.6 90.46 454.29 90.96 428.27 91.46 434.54 91.96 459.52 92.46 455.87 92.96 433.11 93.46 433.34 93.96 449.88 94.46 449.2 94.96 436.63 95.46 439.68 95.96 449.42 96.46 440.7 96.93 416.15 96.96 417.88 97.46 446.42 97.96 439.45 98.46 451.95 98.96 462.1 99.46 454.83 99.96 446.26 100.46 426.53 100.65 417.4 100.96 433.32 101.46 460.33 101.96 457.84 102.46 458.17 102.96 452.17 103.46 438.33 103.96 434.33 104.46 457.5 104.96 455 105.46 455.94 105.96 460.59 106.45 437.21 106.95 427.86 107.45 440.17 107.95 449.52 108.45 438.36 108.95 431 109.45 447.24 109.95 448.68 110.45 436.31 110.95 456.62 111.45 453.32 111.95 452.71 112.45 449.18 112.95 459.39 113.45 438.06 113.95 444.51 114.45 460.91 114.95 456.95 115.45 431.66 115.95 439.23 116.45 457.44 116.95 450.49 117.45 427.14 117.95 416.95 118.45 419.16 118.95 460.21 119.45 430.38 119.95 420.35 120.45 444.57 120.95 460.64 121.45 452.45 121.95 456.82 122.45 460.68 122.95 452.84 123.45 447.97 123.95 447.44 124.45 435.58 124.95 449.28 125.45 449.94 125.95 437.27 126.45 443.28 126.95 450.96 127.45 427.86 127.95 429.21 128.45 432.55 128.95 451.33 129.45 422.76 129.95 418.65 130.45 421.35 130.95 422.89 131.33 418.65 131.45 423.29 131.95 440.65 132.45 431.21 132.95 422.08 133.45 418.36 133.95 434.81 134.44 451.39 134.94 456.92 135.44 452.49 135.94 449.15 136.44 418.88 136.53 412.91 136.94 438.63 137.44 446.2 137.94 453.25 138.44 440.93 138.94 419.25 139.44 421.79 139.94 442.98 140.44 457.07 140.94 458.19 141.44 451.09 141.94 458.67 142.44 445 142.94 444.15 143.41 419.27 143.44 420.82 143.94 442.33 144.44 442.84 144.94 446.41 145.44 450.33 145.94 446.11 146.44 443.29 146.94 453.9 147.44 445.61 147.94 447.39 148.44 455.6 148.94 458.53 149.44 453.79 149.94 453.9 150.44 455.65 150.94 453.39 151.44 430.78 151.87 387.71 151.94 393.82 152.44 434.25 152.94 435.67 153.44 451.86 153.94 423.41 154.44 436.31 154.94 455.89 155.44 448.68 155.94 438.79 156.44 439.6 156.94 433.94 157.26 409.92 157.44 421.49 157.94 448.62 158.44 452.46 158.94 451.22 159.44 424.72 159.94 423.09 160.44 456.52 160.94 428.1 161.44 445.35 161.94 430.65 162.43 445.22 162.93 452.45 163.43 442.74 163.93 453.7 164.43 432.24 164.79 402.43 164.93 413.96 165.43 429.05 165.93 414.52 166.43 416.97 166.93 447.1 167.43 407.9 167.58 396.19 167.93 423.78 168.43 452.86 168.93 452.56 169.43 445.28 169.93 415.07 170.43 414.2 170.93 437.06 171.43 450.29 171.93 422.8 172.43 415.36 172.93 426.28 173.43 436.2 173.93 434.15 174.43 437.02 174.93 434.13 175.21 422.39 175.43 435.51 175.93 462.05 176.43 455.79 176.93 460.61 177.43 450.47 177.93 433.13 178.43 440.78 178.93 435.45 179.43 422.23 179.93 438.22 180.43 458.51 180.93 455.67 181.43 426.47 181.93 422.25 182.43 444.79 182.93 435.36 183.43 425.75 183.93 456.58 184.43 437.82 184.93 432.04 185.43 422.41 185.93 427.2 186.43 448.29 186.93 457.17 187.43 457.7 187.93 457.57 188.43 450.85 188.93 450.03 189.43 448.76 189.92 440.72 190.42 444.07 190.92 459.34 191.42 457.11 191.92 446.48 192.42 427.05 192.68 414.9 192.92 428.57 193.42 444.96 193.92 435.15 194.42 450.45 194.92 455.76 195.42 454.02 195.92 449.41 196.42 447.76 196.92 446.05 197.42 426.96 197.92 436.17 198.42 455.13 198.92 445.42 199.42 453.37 199.92 450.64 200.42 449.02 200.92 452.58 201.42 450.18 201.92 453.39 202.42 450.48 202.92 453.28 203.42 450.85 203.92 460.22 204.42 456.32 204.92 458.46 205.42 440.66 205.92 425.59 206.42 422.85 206.92 451.33 207.42 460.55 207.92 430.25 208.42 442.31 208.92 448.32 209.42 418.02 209.42 418.02 209.92 437.07 210.42 454.26 210.92 456.24 211.42 453.37 211.92 456.72 212.42 446.35 212.92 456.2 213.42 457.82 213.92 447.2 214.42 448.09 214.92 447.58 215.42 433.6 215.92 435.92 216.42 448.74 216.92 457.04 217.42 458.46 217.91 455.09 218.41 445.54 218.91 447.14 219.41 448.57 219.91 445.93 220.41 453.7 220.91 449.77 221.41 454.05 221.91 450.23 222.41 462.52 222.91 442.37 223.41 454.58 223.91 457.84 224.41 455.01 224.91 450.51 225.41 438.42 225.91 435.56 226.15 427.75 226.41 437.77 226.91 458.88 227.41 442.26 227.91 432.26 228.41 435.84 228.91 433.79 229.41 423.66 229.91 427.04 230.41 453.85 230.91 454.71 231.41 452.99 231.91 444.94 232.41 433.57 232.66 421.14 232.91 432.3 233.41 444.06 233.91 455.41 234.41 450.4 234.91 448.36 235.41 456.5 235.91 456.23 236.41 454.1 236.91 450.31 237.41 423.51 237.91 423.2 238.41 457.17 238.91 439.36 239.41 438.46 239.91 439.82 240.41 450.49 240.91 456.7 241.41 454.55 241.91 451.46 242.41 430.22 242.91 423.28 243.41 422.75 243.91 423.06 244.41 432.18 244.75 423.64 244.91 431.08 245.41 457.4 245.9 453.36 246.4 445.28 246.9 442.28 247.4 441.76 247.9 425.1 248.4 424.88 248.9 441.23 249.4 460.19 249.9 429.45 250.4 423.55 250.9 441.27 251.4 455.32 251.9 456.11 252.4 442.31 252.9 458.7 253.4 429.2 253.9 429.49 254.4 444.09 254.9 453.73 255.4 440.55 255.9 428.77 256.4 440.57 256.9 459.06 257.4 455.97 257.9 445.35 258.4 452.51 258.9 448.06 259.34 424.88 259.4 427.94 259.9 454.6 260.4 440.77 260.9 446.41 261.4 450.53 261.9 453.3 262.4 441.89 262.9 438.72 263.34 409.17 263.4 412.68 263.9 424.42 264.4 425.61 264.9 455.88 265.4 445.87 265.9 442.31 266.13 432.37 266.4 444.38 266.9 449.89 267.4 453.56 267.9 449.92 268.4 427.91 268.9 444.84 269.4 443.55 269.9 459.16 270.4 439.59 270.9 439.31 271.4 443.55 271.9 429.7 272.4 424.06 272.9 423.39 273.4 423.69 273.89 425.08 274.39 429.93 274.89 442.95 275.39 453.18 275.89 430.79 276.39 438.29 276.89 451.38 277.39 455.65 277.89 455.07 278.39 433.12 278.89 438.86 279.39 431.26 279.89 425.47 280.39 424.61 280.89 426.1 281.39 453.05 281.89 454.57 282.39 449.58 282.86 429.88 282.89 431 283.39 435.93 283.89 431.19 284.39 430.87 284.89 429.32 285.39 425.78 285.89 446.95 286.39 443.31 286.89 429.95 287.39 439.09 287.51 437.36 287.89 449.02 288.39 459.58 288.89 454.04 289.39 451.19 289.89 462.07 290.39 454.85 290.89 457.44 291.39 443.61 291.89 450.06 292.39 459.46 292.89 459.48 293.39 460.74 293.89 458.89 294.39 455.51 294.89 457.8 295.39 461.32 295.89 464.45 296.39 458.36 296.89 458.32 297.39 463.46 297.89 463.81 298.39 462.24 298.89 458.43 299.39 461.26 299.89 457.52 300.39 461.73 300.89 452.34 301.39 453.06 301.88 461.96 302.38 459.97 302.88 462.34 303.38 462.91 303.88 462.39 304.38 464.19 304.88 460.63 305.38 464.09 305.88 458.4 306.38 462.23 306.88 463.33 307.38 463.84 307.88 459.92 308.38 463.52 308.88 464.89 309.38 460.53 309.88 455.42 310.38 454.93 310.88 460.4 311.38 461.22 311.88 463.71 312.38 458.65 312.88 462.84 313.38 463.43 313.88 464.22 314.38 462 314.88 460.15 315.38 457.27" stroke="#000" stroke-width="1.0" fill="none" stroke-linejoin="round"/><path d="M36.5 466.05 37.43 461.06 38.36 464.81 39.29 458.57 40.22 463.56 41.15 452.33 42.08 462.31 43.01 457.32 43.94 464.81 44.87 459.81 45.8 463.56 46.73 454.82 47.66 462.31 48.59 436.11 49.42 419.89 50.07 448.59 50.72 434.87 51.37 452.33 52.58 428.25 53.23 448.59 54.2 461.05 54.44 459.81 54.86 328.5 55.09 392.45 55.73 414.12 55.74 317.97 56.21 367.5 56.57 324.46 56.77 341.3 57.22 449.66 57.42 386.21 57.98 330.07 58.06 319.63 58.53 292.03 58.94 429.23 59 355.02 59.46 398.69 59.93 350.03 59.94 353.59 60.35 449.65 60.49 392.45 61.04 417.4 61.41 376.56 61.6 358.77 61.93 451.5 62.07 398.69 62.53 448.59 62.68 404.05 63.09 392.45 63.71 431.33 63.83 348.79 64.29 330.97 64.58 328.08 65.13 361.26 65.26 427.63 65.51 404.93 66.06 386.21 66.28 380.84 66.71 423.64 66.76 459.21 67.36 448.59 67.55 439.8 68.11 436.11 69.04 452.33 69.97 442.35 71.08 448.59 71.83 459.81 72.76 448.79 73.26 456.71 73.76 459.84 74.26 458.93 74.76 463.22 75.26 463.62 75.76 463.69 76.26 465.05 76.76 460.07 77.26 457.03 77.76 463.45 78.26 465.33 78.75 461.62 79.25 458.29 79.75 461.29 80.25 463.84 80.75 462.59 81.25 463.25 81.75 458.75 82.25 462.15 82.75 462.39 83.25 461.87 83.75 464.05 84.25 461.59 84.75 459.09 85.25 465.27 85.75 465.46 86.25 461.38 86.75 459.75 87.25 459.71 87.75 455.72 88.25 461.77 88.75 453.28 89.25 456.09 89.75 463.06 90.25 459.68 90.75 458.81 91.25 457.6 91.75 462.14 92.25 464.8 92.75 461.3 93.25 463.69 93.75 461.11 94.25 463.9 94.75 463.66 95.25 465.27 95.75 463.04 96.25 463.16 96.75 465.1 97.25 460.62 97.75 465.49 98.25 465.82 98.75 464.23 99.25 464.08 99.75 463.86 100.25 464.86 100.75 460.74 101.25 461.65 101.75 465.7 102.25 464.52 102.75 466.37 103.25 463.84 103.75 464.61 104.25 465.15 104.75 464.13 105.25 464.79 105.75 464.24 106.24 466.36 106.74 465.81 107.24 465.4 107.74 464.89 108.24 463.42 108.74 465.58 109.24 465.28 109.74 464.36 110.24 465.82 110.74 465.18 111.24 463.97 111.74 464.87 112.24 465.05 112.74 466.21 113.24 466.44 113.74 465.62 114.24 465.37 114.74 466.14 115.24 463.29 115.74 464.24 116.24 463.82 116.74 465.87 117.24 466.01 117.74 465.4 118.24 464.35 118.74 465.17 119.24 464.71 119.74 465.33 120.24 464.41 120.74 465.14 121.24 466.06 121.74 465.08 122.24 465.54 122.74 466.07 123.24 464.82 123.74 465.07 124.24 466.19 124.74 465.77 125.24 466.41 125.74 466.37 126.24 466.51 126.74 464.14 127.24 465.36 127.74 465.93 128.24 465.89 128.74 466.64 129.24 466.07 129.74 464.95 130.24 465.43 130.74 465.9 131.24 463.07 131.74 464.07 132.24 465.41 132.74 465.67 133.24 466.08 133.74 466.13 134.23 466.23 134.73 465.68 135.23 465.58 135.73 465.59 136.23 465.7 136.73 465.3 137.23 463.47 137.73 465.38 138.23 464.81 138.73 466.05 139.23 466.52 139.73 465.72 140.23 465.16 140.73 465.32 141.23 464.42 141.73 463.41 142.23 465.35 142.73 464.11 143.23 464.68 143.73 464.83 144.23 465.13 144.73 466.34 145.23 466.33 145.73 465.66 146.23 466.22 146.73 466.08 147.23 465.53 147.73 465.94 148.23 464.03 148.73 464.31 149.23 465.65 149.73 465.75 150.23 466.07 150.73 466.52 151.23 465.2 151.73 464.93 152.23 466.24 152.73 465 153.23 464.73 153.73 465.18 154.23 464.85 154.73 464.65 155.23 465.67 155.73 465.62 156.23 466.43 156.73 465.16 157.23 465.29 157.73 465.43 158.23 463.9 158.73 466.48 159.23 464.68 159.73 465.19 160.23 464.77 160.73 464.95 161.23 465.54 161.73 466.43 162.22 466.95 162.72 466.27 163.22 465.45 163.72 465.44 164.22 465.16 164.72 465 165.22 465.61 165.72 465.67 166.22 465.89 166.72 466.45 167.22 466.56 167.72 466.35 168.22 466.13 168.72 466.48 169.22 465.19 169.72 464.19 170.22 463.99 170.72 464.14 171.22 464.41 171.72 464.85 172.22 466.32 172.72 465.63 173.22 466.05 173.72 466.63 174.22 466.55 174.72 466.42 175.22 466.42 175.72 466.59" stroke="#f00" stroke-width="1.0" fill="none" stroke-linejoin="round"/></g>
<path d="M36 267.7H315.9" stroke="#8a8a8a" stroke-width="1.5" fill="none"/>
<path d="M315.4 267.7V467.3" stroke="#555" stroke-width="1" fill="none"/>
<path d="M36.5 267.7V467.3M36 467.3H315.9" stroke="#333" stroke-width="1" fill="none"/>
<path d="M36.5 467.3v3.5M82.98 467.3v3.5M129.47 467.3v3.5M175.95 467.3v3.5M222.43 467.3v3.5M268.92 467.3v3.5M315.4 467.3v3.5M59.74 467.3v2M106.22 467.3v2M152.71 467.3v2M199.19 467.3v2M245.67 467.3v2M292.16 467.3v2M36.5 467.3h-4M36.5 442.35h-4M36.5 417.4h-4M36.5 392.45h-4M36.5 367.5h-4M36.5 342.55h-4M36.5 317.6h-4M36.5 292.65h-4M36.5 267.7h-4M36.5 454.82h-2M36.5 429.88h-2M36.5 404.93h-2M36.5 379.98h-2M36.5 355.02h-2M36.5 330.07h-2M36.5 305.12h-2M36.5 280.17h-2" stroke="#333" stroke-width="1" fill="none"/>
<text x="36.5" y="484.1" class="tk" style="font-size:14px" text-anchor="middle">0</text>
<text x="82.98" y="484.1" class="tk" style="font-size:14px" text-anchor="middle">5</text>
<text x="129.47" y="484.1" class="tk" style="font-size:14px" text-anchor="middle">10</text>
<text x="175.95" y="484.1" class="tk" style="font-size:14px" text-anchor="middle">15</text>
<text x="222.43" y="484.1" class="tk" style="font-size:14px" text-anchor="middle">20</text>
<text x="268.92" y="484.1" class="tk" style="font-size:14px" text-anchor="middle">25</text>
<text x="315.4" y="484.1" class="tk" style="font-size:14px" text-anchor="middle">30</text>
<text x="30.5" y="472.1" class="tk" style="font-size:14px" text-anchor="end">0</text>
<text x="30.5" y="447.15" class="tk" style="font-size:14px" text-anchor="end">2</text>
<text x="30.5" y="422.2" class="tk" style="font-size:14px" text-anchor="end">4</text>
<text x="30.5" y="397.25" class="tk" style="font-size:14px" text-anchor="end">6</text>
<text x="30.5" y="372.3" class="tk" style="font-size:14px" text-anchor="end">8</text>
<text x="30.5" y="347.35" class="tk" style="font-size:14px" text-anchor="end">10</text>
<text x="30.5" y="322.4" class="tk" style="font-size:14px" text-anchor="end">12</text>
<text x="30.5" y="297.45" class="tk" style="font-size:14px" text-anchor="end">14</text>
<text x="30.5" y="272.5" class="tk" style="font-size:14px" text-anchor="end">16</text>
<text x="175.95" y="506" class="ax" style="font-size:13.8px" text-anchor="middle">Frequency (Hz)</text>
<text transform="translate(12.6 367.5) rotate(-90)" class="ax" style="font-size:13.65px" text-anchor="middle">Amplitude (×10<tspan font-size="9.55" dy="-5.05">−4</tspan><tspan dy="5.05"> g rms)</tspan></text>
<clipPath id="c3"><rect x="396.5" y="266.1" width="264" height="185.8"/></clipPath>
<path d="M462.5 267.1V451.4M528.5 267.1V451.4M594.5 267.1V451.4M396.5 420.68H660.5M396.5 389.97H660.5M396.5 359.25H660.5M396.5 328.53H660.5M396.5 297.82H660.5" stroke="#c6c6c6" stroke-width="1" fill="none"/>
<text x="397.5" y="279.7" class="lg" style="font-size:13.46px" textLength="62.9" lengthAdjust="spacingAndGlyphs">Palmspring</text>
<path d="M560.5 276.5H588.7" stroke="#666" stroke-width="1.3"/>
<path d="M560.5 292.2H588.7" stroke="#f22" stroke-width="1.0"/>
<text x="592.5" y="281.9" class="lg" style="font-size:13px" textLength="65" lengthAdjust="spacingAndGlyphs">Non-isolated</text>
<text x="592.5" y="297.1" class="lg" style="font-size:13px" textLength="39.8" lengthAdjust="spacingAndGlyphs">Isolated</text>
<g clip-path="url(#c3)"><path d="M396.5 451.4 397.49 446.79 398.48 448.33 399.47 439.11 400.46 432.97 401.12 442.19 401.78 426.83 402.44 439.11 403.1 429.9 403.76 443.72 404.42 436.04 405.08 446.79 406.07 428.36 407.06 442.19 408.05 423.75 409.04 411.47 409.7 432.97 410.36 420.68 411.02 439.11 412.01 426.83 413 437.58 413.99 411.47 414.98 436.04 415.97 425.29 416.96 443.72 417.95 431.43 418.94 446.79 419.93 436.04 420.92 448.33 421.91 437.58 422.9 445.26 423.23 418.91 423.73 422.57 424.22 399.18 424.23 399.7 424.73 425.33 425.23 429.07 425.73 432.16 426.23 435.14 426.73 434.22 427.23 433.33 427.73 436.66 428.23 439.85 428.73 432.94 429.23 419.74 429.5 413 429.73 417.78 430.23 414.43 430.73 418.47 431.23 437.84 431.73 438.14 432.23 439.74 432.73 438.9 433.23 428.94 433.73 432.55 434.23 443.63 434.73 434.45 435.23 433.12 435.73 431.34 436.23 429.28 436.73 441.91 437.23 418.44 437.73 413.66 438.23 413.19 438.41 406.86 438.73 421.09 439.23 444.88 439.73 438.01 440.23 423.3 440.73 418.18 441.23 432.87 441.73 440.89 442.23 438.88 442.73 443.8 443.23 439.26 443.73 436.74 444.23 431.88 444.73 429.44 445.23 431.84 445.73 432.88 446.23 429.69 446.73 426.48 447.23 428.76 447.73 437.31 448.23 439.08 448.73 431.81 449.23 412.2 449.3 409.16 449.73 428.45 450.23 443.64 450.73 429.23 451.23 420.62 451.73 419.68 452.23 414.06 452.73 413.94 453.23 433.83 453.73 425.15 454.23 419.46 454.73 443.09 455.23 424.13 455.73 421.52 456.23 433.05 456.73 440.77 457.23 437.4 457.73 435.27 458.23 432.88 458.73 439.92 459.23 442.27 459.73 439.69 460.23 440.98 460.73 440.35 461.23 439.13 461.73 438.51 462.23 422.44 462.73 419.26 463.23 432.43 463.73 423.34 463.82 420.68 464.23 430.9 464.73 434.68 465.23 434.54 465.73 431.87 466.23 435.7 466.73 434.28 467.23 426.16 467.73 434.24 468.23 439.92 468.73 439.85 469.23 433.7 469.73 423.62 470.23 429.72 470.73 438.73 471.23 423 471.73 424.73 472.23 434.11 472.73 442.62 473.23 444.17 473.73 440.16 474.23 436.34 474.73 437.8 475.23 436.84 475.73 437.17 476.23 440.79 476.73 428.73 477.02 419.61 477.23 426.36 477.73 439.29 478.23 438.62 478.73 440.05 479.23 435.21 479.73 430.51 480.23 443.3 480.73 417.88 481.23 411.16 481.64 395.5 481.73 398.99 482.23 424.82 482.73 440.84 483.23 442.82 483.73 436.18 484.23 437.48 484.73 438.54 485.23 429.59 485.73 417.33 486.23 422.38 486.73 435.48 487.23 442.94 487.73 442.89 488.23 437.4 488.73 443.53 489.23 446.08 489.73 440.93 490.23 432.82 490.73 431.88 491.23 426.4 491.73 427.97 492.23 438.52 492.73 439.49 493.23 435.43 493.73 437.94 494.23 438.2 494.73 433.24 495.23 435.59 495.73 441.57 496.23 440.82 496.73 429.61 496.82 427.59 497.23 437.17 497.73 443.16 498.23 436.78 498.73 429.41 499.23 424.59 499.73 424.09 500.23 424.5 500.73 433.11 501.23 441.82 501.73 441.36 502.23 426.19 502.43 421.76 502.73 428.11 503.23 436.89 503.73 440.39 504.23 443.1 504.73 436.35 505.23 427.66 505.73 428.95 506.23 435.93 506.73 442.77 507.23 433.7 507.71 418.07 507.73 418.65 508.23 433.41 508.73 440.75 509.23 441.61 509.73 441.99 510.23 437.33 510.73 437.59 511.23 442.87 511.73 441.08 512.23 437.82 512.73 440.52 513.23 442.07 513.73 439.6 514.23 444.3 514.73 442.28 515.23 438.01 515.73 443.44 516.23 446.82 516.73 443.88 517.23 439.6 517.73 436.13 517.94 432.97 518.23 438.3 518.73 446.41 519.23 443.02 519.73 442.07 520.23 445.28 520.73 445.1 521.23 445.34 521.73 446.14 522.23 445.9 522.73 445.69 523.23 439.6 523.73 438.55 524.23 444.48 524.73 438.92 525.2 429.13 525.23 429.73 525.73 440.02 526.23 448.41 526.73 447.01 527.23 447.94 527.73 447.05 528.23 443.45 528.73 438.35 529.23 437.74 529.73 443.47 530.23 446.5 530.73 447.36 531.23 444.14 531.73 441.32 532.23 439.83 532.73 438.75 533.23 440.19 533.73 442.8 534.23 442.05 534.73 441.77 535.23 445.23 535.73 444.87 536.23 444.58 536.73 448.42 537.23 444.32 537.73 444.52 538.23 444.24 538.73 441.35 539.23 440.75 539.73 444.48 540.23 446.08 540.73 442.44 541.23 441.99 541.73 443.65 542.23 442.7 542.73 441.7 543.23 447.78 543.73 441.55 544.23 441.31 544.73 442.43 545.23 446.74 545.73 445.87 546.23 447.84 546.73 447.35 547.23 443.77 547.73 438.72 548.23 444.04 548.73 444.85 549.23 446.9 549.73 444.92 550.23 443.87 550.73 440.15 551.23 433.76 551.73 432.59 552.23 426.59 552.26 426.06 552.73 434.98 553.23 440.15 553.73 440.65 554.23 434.53 554.73 433.19 555.23 435.85 555.73 436.54 556.23 438.92 556.73 442.2 557.23 441.27 557.73 439.52 558.23 436.49 558.73 431.43 559.23 428.3 559.73 428.63 560.23 438.38 560.73 446.06 561.23 439.07 561.73 440.55 562.23 443.85 562.73 447.18 563.23 441.76 563.73 439.74 564.23 440.23 564.73 427.62 564.8 426.06 565.23 431.01 565.46 426.83 565.73 432.43 566.23 438.48 566.73 444.77 567.23 443.12 567.73 446.23 568.23 444.45 568.73 438.6 569.23 437.25 569.73 439.02 570.23 443.65 570.73 446.48 571.23 441.03 571.73 441.75 572.23 445.9 572.73 445.75 573.23 444.9 573.73 441.45 574.23 439.54 574.73 444.64 575.23 436.85 575.73 429.25 576.23 430.55 576.73 437.13 577.23 447.17 577.73 445.43 578.23 443.64 578.73 436.36 579.23 432.6 579.73 432.03 580.23 436.03 580.73 441.46 581.23 441.92 581.73 429.15 582.23 436.16 582.62 434.51 582.73 435.71 583.23 444.45 583.73 443.72 584.23 442.3 584.73 442.92 585.23 448.03 585.73 446.35 586.23 444.03 586.73 443.47 587.23 439.98 587.73 440.03 588.23 445.19 588.73 448.13 589.23 447.17 589.73 443.84 590.23 442.39 590.73 448.27 591.23 441.99 591.73 439.56 592.23 439.82 592.73 439.32 593.23 439.68 593.73 443.49 594.23 448.79 594.73 443.29 595.23 441.08 595.73 441.18 596.23 441.81 596.73 443.61 597.23 444.67 597.73 445.57 598.23 445.94 598.73 446.88 599.23 449.21 599.73 449.44 600.23 450.13 600.73 449.04 601.23 448.98 601.73 448.79 602.23 448.24 602.73 448.5 603.23 448.85 603.73 448.22 604.23 447.13 604.73 447.14 605.23 448.97 605.73 450.27 606.23 449.7 606.73 449.22 607.23 448.65 607.73 449.68 608.23 450.44 608.73 450.63 609.23 450.41 609.73 449.83 610.23 448.48 610.73 448.7 611.23 449.65 611.73 450.3 612.23 448.79 612.73 447.96 613.23 448.24 613.73 449.21 614.23 450.2 614.73 450.58 615.23 449.84 615.73 449.41 616.23 450.07 616.73 450.79 617.23 450.46 617.73 450.7 618.23 449.84 618.73 449.58 619.23 450.23 619.73 450.83 620.23 450.81 620.73 450.18 621.23 449.73 621.73 449.6 622.23 449.79 622.73 450.64 623.23 450.35 623.73 450.89 624.23 450.37 624.73 450.65 625.23 450.95 625.73 450.58 626.23 450.45 626.73 450.32 627.23 449.91 627.73 450.5 628.23 449.81 628.73 449.21 629.23 449.19 629.73 449.65 630.23 450.64 630.73 450.22 631.23 450.33 631.73 450.3 632.23 449.91 632.73 449.89 633.23 450.3 633.73 450.24 634.23 450.21 634.73 450.59 635.23 450.72 635.73 450.46 636.23 450.24 636.73 450.73 637.23 450.44 637.73 450.7 638.23 450.43 638.73 450.65 639.23 450.56 639.73 450.27 640.23 450.34 640.73 450.56 641.23 450.86 641.73 450.43 642.23 449.78 642.73 449.61 643.23 449.63 643.73 449.78 644.23 450.12 644.73 450.78 645.23 450.48 645.73 450.43 646.23 450.18 646.73 450.23 647.23 450.94 647.73 450.78 648.23 450.33 648.73 450.59 649.23 450.47 649.73 450.36 650.23 450.52 650.73 450.89 651.23 450.99 651.73 451.01 652.23 450.86 652.73 450.64 653.23 450.46 653.73 450.56 654.23 450.47 654.73 449.94 655.23 450.21 655.73 450.7 656.23 450.83 656.73 450.71 657.23 450.55 657.73 450.51 658.23 450.44 658.73 450.43 659.23 450.43 659.73 450.26 660.23 449.89 660.73 449.68" stroke="#000" stroke-width="0.95" fill="none" stroke-linejoin="round"/><path d="M396.5 451.4 397.82 446.79 398.81 439.11 399.8 445.26 400.34 435.01 400.72 424.83 401.37 432.4 401.45 436.04 401.79 433.83 402.31 413 402.77 428.36 402.79 394.58 403.23 372 403.45 414.22 403.76 420.68 404.34 412.15 404.35 409.93 405.08 436.04 405.19 437.41 405.57 411.47 405.74 411.47 406.3 427.68 406.4 426.83 406.93 400.72 407.31 402.3 407.59 417.61 407.8 439.36 408.05 439.11 408.7 354.52 408.71 397.65 409.47 366.58 409.5 348.19 410.03 382.29 410.08 372.96 410.69 356.18 410.8 371.22 411.35 366.93 411.7 309.83 412.08 284.3 412.47 320.85 412.51 346.85 412.93 333.14 413.17 340.15 413.53 366.93 414.11 370.17 414.12 354.64 414.65 389.97 414.94 382.51 415.31 377.68 415.76 407.34 415.97 413 416.14 409.16 416.63 405.32 417.29 439.11 417.95 426.83 418.94 448.33 419.6 446.52 420.1 444.65 420.6 446.63 421.1 446.08 421.6 446.04 422.1 441.84 422.6 445.83 423.1 447.99 423.6 446.34 424.1 438.22 424.6 441.6 425.1 439.48 425.6 435.11 426.1 429.54 426.6 441.34 427.1 440.89 427.6 441.66 428.1 435.31 428.6 443.28 429.1 447.91 429.6 447.78 430.1 443.68 430.6 444.93 431.1 448.05 431.6 449.59 432.1 445.98 432.6 441.81 433.1 441.98 433.6 444.81 434.1 447.34 434.6 447.16 435.1 447.17 435.6 445.37 436.1 448.15 436.6 448.66 437.1 448.63 437.6 448.42 438.1 449.42 438.6 449.34 439.1 447.29 439.6 448.17 440.1 448.83 440.6 449.54 441.1 449.19 441.6 449.8 442.1 448.23 442.6 446.7 443.1 446.82 443.6 449.06 444.1 449.46 444.6 450.22 445.1 450.19 445.6 449.83 446.1 449.55 446.6 447.95 447.1 448.4 447.6 450.17 448.1 449.86 448.6 449.93 449.1 450.32 449.6 449.58 450.1 449.03 450.6 449.81 451.1 448.9 451.6 449.65 452.1 448.46 452.6 449.59 453.1 449.43 453.6 449.97 454.1 450.63 454.6 451.07 455.1 450.29 455.6 450.83 456.1 450.31 456.6 449.72 457.1 449.42 457.6 450.54 458.1 449.37 458.6 449.62 459.1 450.53 459.6 451 460.1 450.31 460.6 449.75 461.1 449.64 461.6 450.04 462.1 450.49 462.6 448.87 463.1 448.35 463.6 448.04 464.1 449.19 464.6 449.33 465.1 447.17 465.6 448.09 466.1 449.59 466.6 449.81 467.1 450.17 467.6 450.43 468.1 450.33 468.6 450.47 469.1 450.18 469.6 449.3 470.1 449.56 470.6 450.48 471.1 450.36 471.6 450.55 472.1 450.71 472.6 450.8 473.1 450.8 473.6 450.28 474.1 449.77 474.6 449.61 475.1 450.7 475.6 450.19 476.1 450.04 476.6 449.54 477.1 450.04 477.6 450.26 478.1 450.04 478.6 450.64 479.1 451.05 479.6 450.98 480.1 450.45 480.6 450.54 481.1 450.88 481.6 450.39 482.1 449.56 482.6 449.86 483.1 450.48 483.6 450.62 484.1 450.66 484.6 450.56 485.1 450.73 485.6 450.62 486.1 450.4 486.6 450.81 487.1 450.57 487.6 450.41 488.1 449.91 488.6 450.31 489.1 450.59 489.6 450.39 490.1 450.78 490.6 450.61 491.1 450.37 491.6 450.64 492.1 450.83 492.6 451.15 493.1 450.79 493.6 450.79 494.1 450.8 494.6 450.69 495.1 450.43" stroke="#f00" stroke-width="1.0" fill="none" stroke-linejoin="round"/></g>
<path d="M396 267.1H661" stroke="#8a8a8a" stroke-width="1.5" fill="none"/>
<path d="M660.5 267.1V451.4" stroke="#555" stroke-width="1" fill="none"/>
<path d="M396.5 267.1V451.4M396 451.4H661" stroke="#333" stroke-width="1" fill="none"/>
<path d="M396.5 451.4v3.5M462.5 451.4v3.5M528.5 451.4v3.5M594.5 451.4v3.5M660.5 451.4v3.5M429.5 451.4v2M495.5 451.4v2M561.5 451.4v2M627.5 451.4v2M396.5 451.4h-4M396.5 420.68h-4M396.5 389.97h-4M396.5 359.25h-4M396.5 328.53h-4M396.5 297.82h-4M396.5 267.1h-4M396.5 436.04h-2M396.5 405.32h-2M396.5 374.61h-2M396.5 343.89h-2M396.5 313.18h-2M396.5 282.46h-2" stroke="#333" stroke-width="1" fill="none"/>
<text x="396.5" y="467" class="tk" style="font-size:13px" text-anchor="middle">0</text>
<text x="462.5" y="467" class="tk" style="font-size:13px" text-anchor="middle">10</text>
<text x="528.5" y="467" class="tk" style="font-size:13px" text-anchor="middle">20</text>
<text x="594.5" y="467" class="tk" style="font-size:13px" text-anchor="middle">30</text>
<text x="660.5" y="467" class="tk" style="font-size:13px" text-anchor="middle">40</text>
<text x="390.5" y="455.86" class="tk" style="font-size:13px" text-anchor="end">0</text>
<text x="390.5" y="425.14" class="tk" style="font-size:13px" text-anchor="end">2</text>
<text x="390.5" y="394.42" class="tk" style="font-size:13px" text-anchor="end">4</text>
<text x="390.5" y="363.71" class="tk" style="font-size:13px" text-anchor="end">6</text>
<text x="390.5" y="332.99" class="tk" style="font-size:13px" text-anchor="end">8</text>
<text x="390.5" y="302.27" class="tk" style="font-size:13px" text-anchor="end">10</text>
<text x="390.5" y="271.56" class="tk" style="font-size:13px" text-anchor="end">12</text>
<text x="528.5" y="487.5" class="ax" style="font-size:12.9px" text-anchor="middle">Frequency (Hz)</text>
<text transform="translate(374.3 359.25) rotate(-90)" class="ax" style="font-size:12.6px" text-anchor="middle">Amplitude (×10<tspan font-size="8.82" dy="-4.66">−4</tspan><tspan dy="4.66"> g rms)</tspan></text>
<clipPath id="c4"><rect x="29.5" y="517.7" width="285.9" height="209.1"/></clipPath>
<path d="M100.97 518.7V726.3M172.45 518.7V726.3M243.92 518.7V726.3M29.5 666.99H315.4M29.5 607.67H315.4M29.5 548.36H315.4" stroke="#c6c6c6" stroke-width="1" fill="none"/>
<text x="30.4" y="533.3" class="lg" style="font-size:14.5px" textLength="39.4" lengthAdjust="spacingAndGlyphs">Gilroy</text>
<path d="M207.9 529.4H238.2" stroke="#444" stroke-width="1.3"/>
<path d="M207.9 545.2H238.2" stroke="#f22" stroke-width="1.0"/>
<text x="241.8" y="533.9" class="lg" style="font-size:14px" textLength="69.8" lengthAdjust="spacingAndGlyphs">Non-isolated</text>
<text x="241.8" y="550.4" class="lg" style="font-size:14px" textLength="42.7" lengthAdjust="spacingAndGlyphs">Isolated</text>
<g clip-path="url(#c4)"><path d="M29.5 726.3 30.21 720.37 30.93 711.47 31.64 717.4 32.36 705.54 33.07 711.47 33.12 722.57 33.7 693.99 33.79 690.71 34.45 717.72 34.5 702.57 35 684.68 35.43 660.16 35.56 686 36.08 690.71 36.21 674.46 36.65 691.32 36.65 666.99 37.31 611.47 37.58 586.32 38.02 691.56 38.08 650.97 38.37 659.56 38.79 690.71 39.07 716.84 39.51 708.51 39.84 687.18 40.22 681.81 40.25 714.11 40.87 695.99 40.94 702.57 41.52 718.92 42.01 714.44 42.07 712.36 42.59 708.22 43.08 690.71 43.46 695.08 43.97 713.31 44.15 711.47 44.69 694.67 45.05 691.81 45.22 661.05 45.87 650.57 46.34 677.63 46.51 633.47 47 641.83 47.37 661.05 47.62 709.34 48.22 683.95 48.44 693.68 48.61 710.96 49.16 714.44 49.34 711.63 50.01 715.06 50.23 696.64 50.57 697.58 51.17 721.35 51.3 720.37 51.79 700.93 52.37 696.64 52.45 706.97 52.77 676.33 53.44 664.02 53.61 703.02 54.25 664.07 54.52 711.47 54.91 715.52 55.5 702.21 55.59 699.61 55.81 713.26 56.66 717.4 57.02 691.53 57.52 688.63 58.02 716.66 58.52 698.45 59.02 671.41 59.52 670.45 60.02 625.5 60.02 625.17 60.52 676.43 61.02 705.45 61.52 703.1 62.02 693.55 62.52 704.98 63.02 694.78 63.52 686.83 64.02 690.16 64.52 658.63 64.52 658.09 65.02 689.81 65.51 680.41 66.01 695.21 66.51 704.62 67.01 711.02 67.51 699.29 68.01 666.16 68.1 661.05 68.51 676.66 69.01 681.9 69.51 714.81 70.01 686.93 70.51 665.97 71.01 670.71 71.51 715.73 72.01 685.62 72.51 683.12 73.01 696.37 73.51 718.55 74.01 714.38 74.51 714.56 75.01 690.58 75.51 650.79 75.6 644.45 76.01 677.74 76.51 696.11 77.01 675.09 77.51 683.35 78.01 689.24 78.51 674.59 79.01 656.34 79.51 667.42 80.01 710.18 80.51 711.01 81.01 718.95 81.51 705.7 82.01 700.08 82.51 705 83.01 703.02 83.51 683.18 84.01 661.64 84.51 657.03 85.01 671.26 85.51 698.84 86.01 706.68 86.51 697.55 87.01 693.98 87.51 658.98 87.61 650.38 88.01 677.17 88.51 667.97 89.01 669.46 89.51 696.39 90.01 713.39 90.51 682.07 91.01 672.18 91.51 681.88 92.01 691.23 92.51 692.48 93.01 688.63 93.51 680.61 94 674.88 94.5 701.57 95 702.61 95.5 698.27 96 689.73 96.5 667.65 97 679.34 97.5 713.26 98 707.91 98.5 693.82 99 678.04 99.5 679.45 100 675.68 100.5 661.75 101 657.37 101.5 657.95 102 675.91 102.4 665.8 102.5 669.61 103 703.72 103.5 703.9 104 708.81 104.5 714.64 105 709.95 105.5 713.14 106 714.97 106.5 709.77 107 703.13 107.5 704.9 108 714.4 108.5 711.75 109 710 109.5 691.39 110 679.42 110.5 696.89 111 712.86 111.5 707.23 112 698.42 112.41 682.41 112.5 685.82 113 700.46 113.5 721.41 114 720.1 114.5 696.01 115 700.22 115.5 715.41 116 712.99 116.5 699.81 117 689.84 117.41 664.02 117.5 669.46 118 696.53 118.5 704.74 119 720.72 119.5 705.85 120 704.8 120.5 712.84 121 709.58 121.5 665.9 121.92 618.35 122 627.65 122.49 674.67 122.99 684.78 123.49 695.52 123.99 705.61 124.49 712.02 124.99 709.83 125.49 688.62 125.99 680.63 125.99 680.71 126.49 703.9 126.99 717.58 127.49 714.94 127.99 717.57 128.49 713.25 128.99 705.86 129.49 714.88 129.99 685.96 130.49 690.6 130.99 710.79 131.49 718.5 131.99 697.18 132.42 689.23 132.49 690.37 132.99 700.32 133.49 714.18 133.99 716.94 134.49 715.09 134.99 695.69 135.49 697.56 135.99 689.93 136.49 676.46 136.99 676.37 137.49 678.24 137.99 687.53 138.49 693.77 138.86 678.85 138.99 685.08 139.49 709.82 139.99 708.71 140.49 704.47 140.99 701.25 141.49 708.61 141.99 720.25 142.49 717.34 142.99 709.08 143.49 707.13 143.99 680.01 144.49 672.05 144.57 669.06 144.99 686.91 145.49 691.52 145.99 682.49 146.49 680.1 146.99 680.16 147.49 706.41 147.99 713.12 148.49 690.57 148.99 668.34 149.49 683.57 149.94 661.35 149.99 664.96 150.49 696.83 150.99 700.02 151.48 706.82 151.98 702.94 152.48 691.92 152.98 701.28 153.48 711.49 153.98 716.48 154.48 707.62 154.98 705.37 155.48 714.94 155.98 718.45 156.48 718.25 156.98 712.14 157.48 713.45 157.98 694.46 158.48 700.46 158.98 715.83 159.48 719.85 159.98 714.6 160.48 713.23 160.98 707.34 161.48 693.81 161.73 689.23 161.98 693.98 162.48 702.51 162.98 708.43 163.48 719.28 163.98 703.77 164.48 699.32 164.98 716.18 165.48 703.68 165.98 699.28 166.48 703.22 166.98 704.62 167.48 716.76 167.98 707.47 168.48 709.1 168.98 709.05 169.48 686.62 169.59 682.41 169.98 697.93 170.48 716.9 170.98 715.09 171.48 711.79 171.98 722.9 172.48 710.12 172.98 702.51 173.48 702.04 173.98 718.39 174.48 709.35 174.98 710.63 175.48 704.81 175.98 695.82 176.48 705.2 176.98 717.95 177.48 712.48 177.98 721.17 178.48 705.76 178.98 709.71 179.48 716.3 179.97 716.8 180.47 710.58 180.97 698.92 181.47 704.44 181.97 713.57 182.47 712.8 182.97 704.63 183.17 701.09 183.47 707.73 183.97 709.4 184.47 711.22 184.97 715.25 185.47 712.5 185.97 717.51 186.47 716.61 186.97 712.29 187.47 720.6 187.97 709.28 188.47 693.71 188.97 689.85 189.47 690.42 189.97 709.07 190.47 720.11 190.97 720.81 191.47 716.89 191.97 712.81 192.47 716.19 192.97 719.55 193.47 712.64 193.97 713.39 194.47 709.54 194.97 691.92 195.47 687.59 195.97 690.34 196.47 701.8 196.97 705.72 197.47 699.38 197.97 687.54 198.18 678.26 198.47 690.9 198.97 714.17 199.47 703.81 199.97 690.7 200.47 707.3 200.97 703.31 201.47 696.75 201.97 699.8 202.47 702.54 202.97 700.1 203.47 688.29 203.97 684.22 204.47 701.43 204.97 715.81 205.47 707.93 205.97 699.59 206.47 710.16 206.97 713.94 207.47 717.2 207.97 709.92 208.46 705.18 208.96 708.87 209.46 714.76 209.96 719.16 210.46 714.69 210.96 709.16 211.46 690.62 211.76 677.37 211.96 685.57 212.46 706 212.96 718.51 213.46 719.29 213.96 712.84 214.46 697.48 214.62 693.68 214.96 699.22 215.46 688.33 215.96 692.55 216.46 712.45 216.96 704.31 217.46 694.56 217.96 695.65 218.46 690.68 218.96 687.31 219.46 701.04 219.96 711.88 220.46 707.08 220.96 708.52 221.46 708.77 221.96 682.12 222.46 680.79 222.96 682.77 223.46 709.84 223.96 717.21 224.46 710.71 224.96 704.39 225.46 712.6 225.96 709.33 226.46 694.58 226.96 682.39 227.46 682.21 227.96 697.8 228.46 717.3 228.96 702.71 229.46 697.87 229.96 701.78 230.34 692.79 230.46 696.31 230.96 704.65 231.46 698.14 231.96 704.53 232.46 708.34 232.96 694.6 233.46 693.9 233.96 700.25 234.46 701.77 234.96 702.86 235.46 707.5 235.96 707.15 236.46 708.57 236.95 713.43 237.45 719.39 237.95 720.5 238.45 721.71 238.95 710.95 239.45 701.51 239.95 710.76 240.45 716.68 240.95 712.91 241.45 718.19 241.95 722.27 242.45 719.87 242.95 719.92 243.45 717.49 243.95 718.63 244.45 718.76 244.95 707.32 245.45 705.07 245.95 714.54 246.45 720.95 246.95 713.7 247.45 708.69 247.95 707.89 248.45 713.67 248.95 721.18 249.45 713.27 249.95 716.66 250.45 721.47 250.95 721.29 251.45 718.36 251.95 717.03 252.45 722.92 252.95 720.43 253.45 722.13 253.95 720.78 254.45 718.74 254.95 721.99 255.45 723.61 255.95 723.18 256.45 720.4 256.95 721.51 257.45 722.73 257.95 722.43 258.45 721.68 258.95 720.45 259.45 721.99 259.95 722.41 260.45 722.64 260.95 723.48 261.45 718.95 261.95 720.16 262.45 724.05 262.95 724.87 263.45 723.9 263.95 723.33 264.45 724.3 264.95 723.7 265.44 725 265.94 724.44 266.44 723.36 266.94 720.75 267.44 718.67 267.94 721.16 268.44 725.04 268.94 724.88 269.44 724.41 269.94 723.6 270.44 721.73 270.94 722.64 271.44 724.61 271.94 723.31 272.44 722.97 272.94 724.63 273.44 723.19 273.94 722.15 274.44 720.89 274.94 721.39 275.44 723.31 275.94 724.55 276.44 722.74 276.94 720.75 277.44 720.71 277.94 722.08 278.44 724.07 278.94 721.3 279.44 721.04 279.94 721.77 280.44 722.78 280.94 724.04 281.44 724.77 281.94 723.2 282.44 723.91 282.94 725.26 283.44 724.9 283.94 725.32 284.44 725.1 284.94 724.26 285.44 723.37 285.94 725.24 286.44 722.46 286.94 723.08 287.44 725.37 287.94 723.8 288.44 723.72 288.94 724.87 289.44 724.18 289.94 723.32 290.44 724.35 290.94 725.02 291.44 723.53 291.94 722.61 292.44 724.02 292.94 724.22 293.44 723.75 293.94 724.6 294.43 724.22 294.93 724.21 295.43 725.02 295.93 725.12 296.43 724.64 296.93 723.35 297.43 722.2 297.93 723.13 298.43 724.68 298.93 722.88 299.43 721.87 299.93 722.3 300.43 725.17 300.93 723.38 301.43 723.92 301.93 724.78 302.43 723.16 302.93 724.63 303.43 725.4 303.93 724.67 304.43 722.83 304.93 722.27 305.43 723.46 305.93 725.34 306.43 725.44 306.93 724.61 307.43 724.34 307.93 724.3 308.43 724.25 308.93 725.67 309.43 724.4 309.93 725.17 310.43 725.59 310.93 725.18 311.43 725.58 311.93 724.37 312.43 723.46 312.93 725.07 313.43 724.41 313.93 723.93 314.43 723.58 314.93 722.87 315.43 723.39" stroke="#000" stroke-width="1.0" fill="none" stroke-linejoin="round"/><path d="M29.5 726.3 30.57 723.33 31.64 718.89 32.72 723.33 33.79 714.44 34.86 720.37 35.93 711.47 37 717.4 38.08 702.57 39.15 717.4 40.22 681.81 40.3 713.81 40.78 633.62 41.36 604.71 41.76 680.2 41.79 652.16 42.33 610.64 42.37 610.64 42.94 666.99 43.22 700.71 43.44 637.33 43.81 665.13 44.01 681.81 44.65 694.7 44.87 589.88 45.22 606.19 45.58 622.5 45.84 652.49 46.08 567.93 46.65 560.22 46.68 560.22 47.23 578.01 47.27 663.12 47.73 569.12 47.9 588.11 48.23 613.6 48.8 669.95 48.8 714.23 49.3 714.44 49.5 688.2 49.87 681.81 50.37 702.9 50.59 634.36 51.06 639.16 51.3 696.64 52.01 711.47 53.09 699.61 54.16 714.44 55.23 666.99 55.95 719.82 56.45 717.95 56.95 716.95 57.45 718.56 57.95 720.36 58.44 720.82 58.94 717.64 59.44 718.91 59.94 718.44 60.44 718.83 60.94 721.56 61.44 721.25 61.94 722.59 62.44 719.27 62.94 717.77 63.44 720.18 63.94 719.42 64.44 719.27 64.94 719.83 65.44 713.7 65.94 705.83 66.44 710.19 66.94 703.95 67.44 709.11 67.94 707.96 68.44 716.02 68.94 707.67 69.44 713.77 69.94 709.68 70.44 716.96 70.94 716.18 71.44 721.59 71.94 723.32 72.44 723.02 72.94 724.28 73.44 723.02 73.94 721.8 74.44 719.74 74.94 719.75 75.44 721.48 75.94 723.76 76.44 724.95 76.94 725.5 77.44 724.3 77.94 723.59 78.44 720.81 78.94 720.23 79.44 722.12 79.94 724.5 80.44 723.88 80.94 724.32 81.44 724.63 81.94 722.77 82.44 721.84 82.94 724.6 83.44 723.35 83.94 723.25 84.44 724.54 84.94 724.91 85.44 724.89 85.94 725.04 86.44 724.38 86.93 724.95 87.43 722.18 87.93 722.62 88.43 723.69 88.93 724.75 89.43 724.6 89.93 724.84 90.43 725.47 90.93 725.42 91.43 725.38 91.93 725.32 92.43 725.14 92.93 724.59 93.43 724.11 93.93 723.64 94.43 723.94 94.93 724.43 95.43 725.37 95.93 725.83 96.43 725.6 96.93 725.42 97.43 724.82 97.93 725.36 98.43 725.02 98.93 724.29 99.43 724.17 99.93 724.81 100.43 725.44 100.93 725.33 101.43 725.3 101.93 725.54 102.43 725.55 102.93 725.31 103.43 725.3 103.93 724.75 104.43 724.69 104.93 723.84 105.43 722.51 105.93 723.84 106.43 724.37 106.93 725.18 107.43 725.27 107.93 724.2 108.43 724.14 108.93 724.04 109.43 722.95 109.93 720.92 110.43 722.64 110.93 723.49 111.43 723.02 111.93 724.6 112.43 725.62 112.93 725.33 113.43 724.13 113.93 723.3 114.43 723.86 114.93 723.79 115.42 723.15 115.92 723.4 116.42 722.63 116.92 723.38 117.42 723.58 117.92 723.63 118.42 723.47 118.92 723.48 119.42 722.56 119.92 722.07 120.42 724.27 120.92 723.46 121.42 723.63 121.92 723.96 122.42 724.28 122.92 724.61 123.42 725.52 123.92 724.92 124.42 724.37 124.92 725.16 125.42 723.22 125.92 723.72 126.42 723.43 126.92 724.54 127.42 722.14 127.92 723.9 128.42 723.33 128.92 724.5 129.42 724.97 129.92 725.38 130.42 724.79 130.92 724.81 131.42 724.45 131.92 724.5 132.42 725.26 132.92 724.5 133.42 724.2 133.92 723.58 134.42 722.51 134.92 722.56 135.42 721.96 135.92 723.08 136.42 724.32" stroke="#f00" stroke-width="1.0" fill="none" stroke-linejoin="round"/></g>
<path d="M29 518.7H315.9" stroke="#8a8a8a" stroke-width="1.5" fill="none"/>
<path d="M315.4 518.7V726.3" stroke="#555" stroke-width="1" fill="none"/>
<path d="M29.5 518.7V726.3M29 726.3H315.9" stroke="#333" stroke-width="1" fill="none"/>
<path d="M29.5 726.3v3.5M100.97 726.3v3.5M172.45 726.3v3.5M243.92 726.3v3.5M315.4 726.3v3.5M65.24 726.3v2M136.71 726.3v2M208.19 726.3v2M279.66 726.3v2M29.5 726.3h-4M29.5 666.99h-4M29.5 607.67h-4M29.5 548.36h-4M29.5 696.64h-2M29.5 637.33h-2M29.5 578.01h-2M29.5 518.7h-2" stroke="#333" stroke-width="1" fill="none"/>
<text x="29.5" y="743.1" class="tk" style="font-size:14px" text-anchor="middle">0</text>
<text x="100.97" y="743.1" class="tk" style="font-size:14px" text-anchor="middle">10</text>
<text x="172.45" y="743.1" class="tk" style="font-size:14px" text-anchor="middle">20</text>
<text x="243.92" y="743.1" class="tk" style="font-size:14px" text-anchor="middle">30</text>
<text x="315.4" y="743.1" class="tk" style="font-size:14px" text-anchor="middle">40</text>
<text x="23.5" y="731.1" class="tk" style="font-size:14px" text-anchor="end">0</text>
<text x="23.5" y="671.79" class="tk" style="font-size:14px" text-anchor="end">2</text>
<text x="23.5" y="612.47" class="tk" style="font-size:14px" text-anchor="end">4</text>
<text x="23.5" y="553.16" class="tk" style="font-size:14px" text-anchor="end">6</text>
<text x="172.45" y="764.6" class="ax" style="font-size:13.75px" text-anchor="middle">Frequency (Hz)</text>
<text transform="translate(12.6 622.5) rotate(-90)" class="ax" style="font-size:13.7px" text-anchor="middle">Amplitude (×10<tspan font-size="9.59" dy="-5.07">−4</tspan><tspan dy="5.07"> g rms)</tspan></text>
<clipPath id="c5"><rect x="399.4" y="525.9" width="285" height="200.9"/></clipPath>
<path d="M437.4 526.9V726.3M475.4 526.9V726.3M513.4 526.9V726.3M551.4 526.9V726.3M589.4 526.9V726.3M627.4 526.9V726.3M665.4 526.9V726.3M399.4 686.42H684.4M399.4 646.54H684.4M399.4 606.66H684.4M399.4 566.78H684.4" stroke="#c6c6c6" stroke-width="1" fill="none"/>
<text x="400.8" y="542" class="lg" style="font-size:14.5px" textLength="54.1" lengthAdjust="spacingAndGlyphs">Parkfield</text>
<path d="M576.9 537.9H607.6" stroke="#444" stroke-width="1.3"/>
<path d="M576.9 554.2H607.6" stroke="#f22" stroke-width="1.0"/>
<text x="610.7" y="542.9" class="lg" style="font-size:14px" textLength="70.7" lengthAdjust="spacingAndGlyphs">Non-isolated</text>
<text x="610.7" y="559.4" class="lg" style="font-size:14px" textLength="43.2" lengthAdjust="spacingAndGlyphs">Isolated</text>
<g clip-path="url(#c5)"><path d="M399.75 725.25 403.26 723.5 404.15 723.46 404.65 722.81 405.15 722.36 405.65 722.62 406.15 721.97 406.65 721.78 407.15 721.02 407.65 721.31 408.15 721 408.65 720.3 409.15 720.25 409.65 719.67 410.15 719.02 410.28 718.24 410.65 718.95 411.15 719.49 411.65 720.13 412.15 719.24 412.65 719.43 413.15 711.86 413.65 700.68 414.15 689.86 414.65 682.18 414.67 676.18 415.15 688.07 415.65 695.57 416.15 692.44 416.42 686.7 416.65 689.53 417.15 694.52 417.65 690.99 418.15 682.78 418.18 683.19 418.65 691.11 419.15 699.7 419.65 701.89 420.15 704.55 420.65 710.22 421.15 707.97 421.65 704.29 422.15 703.38 422.65 702.06 423.15 701.31 423.65 700.69 424.15 699.22 424.32 695.46 424.65 704.43 425.15 709.78 425.65 717.3 426.15 719.15 426.65 720.31 427.15 720.58 427.65 716.3 428.15 713.22 428.65 710.55 428.7 707.73 429.15 710.49 429.65 713.17 430.15 713.51 430.65 714.84 431.15 709.96 431.65 709.95 432.15 702.33 432.21 702.47 432.65 702.26 433.15 703.43 433.65 706.43 433.96 702.47 434.15 705.55 434.65 710.91 435.15 712.23 435.65 716.74 436.15 717.78 436.65 717.56 437.15 717.17 437.65 717.82 438.15 716.92 438.35 716.49 438.65 717.21 439.15 717.45 439.65 717.83 440.15 717.25 440.65 715.11 441.15 715.68 441.65 713.51 442.15 711.22 442.65 708.88 443.15 710.12 443.65 705.77 444.15 707.2 444.65 705.02 445.15 707.5 445.65 704.55 446.15 704.05 446.65 701.9 447.15 699.27 447.65 696.55 448.15 696.15 448.65 690.25 449.15 692.36 449.65 688.13 450.15 683.82 450.65 681.87 451.15 685.3 451.65 681.86 452.15 681.52 452.39 677.94 452.65 684.38 453.15 685.29 453.65 686.45 454.15 685.17 454.49 672.68 454.65 680.56 455.15 683.03 455.65 688.22 456.15 686.75 456.65 694.79 457.15 698 457.65 706.49 458.15 713.08 458.65 717.99 459.15 719.32 459.65 720.53 460.15 719.8 460.65 718.79 461.15 717.79 461.65 717.31 462.15 717.82 462.65 715.71 463.15 711.14 463.65 710.36 464.15 708.66 464.32 705.98 464.65 709.25 465.15 709.06 465.65 709.04 466.15 710.84 466.65 712.18 467.15 709.43 467.65 709.16 468.15 704.41 468.65 702.95 469.15 699.73 469.65 703.49 470 694.64 470.15 697.66 470.28 695.46 470.65 700.34 471.15 702.05 471.65 704.98 472.15 705.93 472.65 712.74 473.15 717.23 473.65 718.76 474.15 716.6 474.65 714.75 475.15 712.17 475.65 711.75 476.15 707.58 476.65 707.36 476.74 704.29 477.15 706.38 477.65 712.6 478.15 713.86 478.65 710.38 479.15 711.53 479.64 705.9 479.65 706.7 480.15 709.91 480.65 712.78 481.15 714.1 481.65 716.77 482.15 719.3 482.65 719.53 483.15 720.14 483.65 721.11 484.15 721.33 484.65 721.82 485.15 721.29 485.65 719.24 486.15 718.32 486.65 718.67 487.15 717.04 487.65 715.86 488.15 714.75 488.65 715.46 489.15 713.99 489.65 715.07 490.15 713.17 490.65 713.92 490.88 712.32 491.15 714.37 491.65 715.64 492.15 715.29 492.65 714.63 493.15 715.96 493.65 714.92 494.15 713.47 494.65 712.43 495.15 713.46 495.65 712.03 496.15 711.61 496.65 713.54 497.15 712.08 497.3 710.72 497.65 712.88 498.15 714.07 498.65 717.35 499.15 719.67 499.65 721.87 500.15 718.06 500.65 715.68 501.15 711.96 501.65 707.49 502.15 705.27 502.65 702.49 503.15 704.62 503.65 701.92 504.05 699.47 504.15 703.72 504.65 707.31 505.15 708.41 505.65 711.78 506.15 713.22 506.65 718.27 507.15 722.9 507.65 723.2 508.15 722.34 508.65 721.83 509.15 721.08 509.65 720.69 510.15 719.55 510.65 716.67 511.15 715.67 511.65 714.05 512.15 710.58 512.65 707.24 513.15 704.88 513.65 702.7 514.15 702.72 514.64 699.47 514.65 700.54 515.15 706.99 515.65 711.77 516.15 714.68 516.65 718.27 517.15 718.09 517.65 713.59 518.15 704.54 518.65 699.22 519.15 696.8 519.65 694.95 520.15 692.05 520.65 696 521.07 689.82 521.15 693.95 521.65 695.36 522.15 694.73 522.65 694.29 523.15 697.04 523.65 692.31 524.15 690.58 524.65 686.96 525.08 675.36 525.15 683.23 525.65 683.87 526.15 690.22 526.65 694.06 527.15 698.18 527.65 703.59 528.15 702.94 528.65 701.46 529.15 703.67 529.65 702.69 530.15 702.29 530.22 700.27 530.65 707.01 531.15 708.56 531.65 712.06 532.15 715.27 532.65 718.99 533.15 716.68 533.65 713.72 534.15 709.69 534.65 709.49 535.15 707.4 535.65 705.42 536.15 704.32 536.65 699.47 536.65 702.04 537.15 703.86 537.65 705.29 538.15 708.46 538.65 708.53 539.15 707.5 539.65 708.53 540.15 707.95 540.65 709.09 541.15 705.89 541.65 703.64 542.15 700.7 542.65 696.97 543.07 694.64 543.15 699.71 543.65 702.38 544.15 707.25 544.65 713.39 545.15 713.31 545.65 713.04 546.15 714.02 546.65 712.71 547.15 713.66 547.65 713 548.15 710.61 548.65 708.34 548.69 707.5 549.15 710.39 549.65 712.34 550.15 714.5 550.65 715.98 551.15 715.68 551.65 715.58 552.15 716.12 552.65 718.01 553.15 717.84 553.65 717.83 554.15 719.53 554.65 718.35 555.15 717.5 555.65 717.61 556.15 716.33 556.65 715.22 557.15 713.08 557.65 712.68 558.15 711.71 558.33 710.72 558.65 714.63 559.15 716.49 559.65 717.79 560.15 720.32 560.65 723.27 561.15 722.14 561.65 720.8 562.15 718.29 562.65 716.63 563.14 713.93 563.15 715.08 563.65 716.9 564.15 718.68 564.65 720.41 565.15 721.85 565.65 723.15 566.15 722.45 566.65 720.76 567.15 720.06 567.65 718.76 568.15 715.83 568.65 714.62 569.15 712.85 569.65 714.21 570.15 711.39 570.65 710.97 571.15 711.03 571.65 709.85 572.15 708.2 572.65 707.31 573.15 703.14 573.65 704.56 574.15 704.69 574.65 702.01 575.15 700.57 575.65 700.54 576.15 702.11 576.61 700.27 576.65 702.04 577.15 700.4 577.65 705.26 578.15 706.99 578.65 708.41 579.15 708.52 579.65 709.41 580.15 710.17 580.65 710.23 581.15 710.22 581.65 712.91 582.15 714.01 582.65 715.04 583.15 717.12 583.65 718.41 584.15 718.51 584.65 717.16 585.15 715.55 585.65 713.25 586.15 712.71 586.24 710.72 586.65 712.91 587.15 714.86 587.65 714.38 588.15 717.16 588.65 718.78 589.15 720.5 589.65 720.71 590.15 717.93 590.65 716.3 591.15 715.62 591.65 712.83 591.86 710.72 592.15 713.32 592.65 715.07 593.15 714.2 593.65 717 594.15 718.3 594.65 719.5 595.15 719.62 595.65 718.1 596.15 715.21 596.65 713.89 597.15 714.03 597.48 710.72 597.65 712.22 598.15 713.49 598.65 715.55 599.15 715.73 599.65 715.63 600.15 718.67 600.65 720.04 601.15 718.73 601.65 718.38 602.15 715.75 602.65 715.43 603.15 714.14 603.65 713.64 603.91 711.52 604.15 713.52 604.65 714.38 605.15 713.98 605.65 713.13 606.15 713.14 606.65 713.13 607.15 712.32 607.65 710.81 608.15 709.86 608.65 705.94 609.15 706.64 609.65 704.9 610.01 701.07 610.15 700.81 610.65 703.39 611.15 706.79 611.65 705.09 612.15 708.06 612.65 711.43 613.15 711.19 613.65 711.36 614.15 708.66 614.65 710.5 615.15 707.33 615.65 708.73 616.15 709.41 616.65 707.81 616.75 705.09 617.15 708.05 617.65 707.48 618.15 709.41 618.65 714.25 619.15 714.93 619.65 715.75 620.15 714.54 620.65 716.37 621.15 716.66 621.65 716.52 622.15 717.62 622.65 718.52 623.15 720.28 623.65 722.46 624.15 723.55 624.65 724.77 625.15 724.82 625.65 724.45 626.15 724.02 626.65 723.43 627.15 722.8 627.65 721.88 628.15 721.04 628.65 719.67 629.15 719.15 629.65 717.78 630.15 717.5 630.65 717.11 631.15 715.32 631.65 713.99 632.01 713.93 632.15 715.36 632.65 715.3 633.15 716.57 633.65 715.59 634.15 714.81 634.65 714.82 635.15 716.97 635.65 714.79 636.15 714.09 636.65 714.87 636.83 713.61 637.15 715.04 637.65 714.48 638.15 716.47 638.65 717.06 639.15 718.16 639.65 718.64 640.15 717.84 640.65 715.48 641.15 713.76 641.65 712.99 642.15 709.63 642.65 706.84 643.15 705.63 643.65 702.79 643.73 701.88 644.15 705.71 644.65 707.82 645.15 706.18 645.65 709.95 646.15 704.99 646.65 702.77 647.15 701.71 647.65 700.44 648.15 699.36 648.39 695.45 648.65 700.7 649.15 704.61 649.65 706.49 650.15 710.75 650.65 714.26 651.15 717.48 651.65 717.04 652.15 715.34 652.65 713.03 653.15 711.05 653.65 711.48 653.69 709.91 654.15 712.67 654.65 714.27 655.15 715.82 655.65 715.16 656.15 715.35 656.65 715.22 657.15 714.93 657.65 715.48 658.15 714.8 658.65 715.66 659.15 716.06 659.65 715.79 660.15 715.47 660.65 715.2 660.92 713.93 661.15 715.72 661.65 718.47 662.15 719.99 662.65 721.74 663.15 723.51 663.65 723.74 664.15 723.65 664.65 723.77 665.15 723.9 665.65 723.67 666.15 723.67 666.65 723.56 667.15 722.62 667.65 722.66 668.15 721.74 668.65 722.31 669.15 721.14 669.65 721.31 669.75 720.36 670.15 720.61 670.65 721.01 671.15 721.86 671.65 722.31 672.15 723.25 672.65 723.1 673.15 723.28 673.65 723.67 674.15 723.94 674.65 723.77 675.15 723.39 675.65 722.82 676.15 722.43 676.65 721.77 676.98 721.65 677.15 721.57 677.65 722.26 678.15 722.27 678.65 721.77 679.15 721.95 679.65 722.5 680.15 722.79 680.65 723.04 681.15 723.21 681.65 723.9 682.15 723.68 682.65 724.04 683.15 724.36 683.65 724.28 684.15 724.63" stroke="#000" stroke-width="1.4" fill="none" stroke-linejoin="round"/><path d="M399.75 725.25 402.39 716.49 404.14 723.5 405.33 716.37 405.37 693.71 405.91 685.93 406.58 700.2 406.77 673.55 407.55 676.01 407.65 707.73 408.24 713.54 408.53 690.2 409.26 696.61 409.4 714.74 409.85 705.24 410.63 663.04 410.78 666.66 411.58 708.02 411.68 690.2 412.53 695.96 412.91 712.99 413.25 719.25 413.96 683.13 414.14 679.69 414.69 713.2 415.19 712.99 415.58 678.6 416.42 672.68 416.51 697.04 416.95 591.18 417.34 619.71 417.82 672.68 418.07 708.96 418.7 707.73 418.94 701.8 419.76 698.55 419.93 665.67 420.38 682.62 421.15 718.12 421.33 707.73 422.21 578.92 422.29 592.77 422.84 706.64 422.91 655.15 423.61 611.34 423.63 604.49 424.58 666.42 424.67 552.63 425.5 575.4 425.54 581.55 426.07 655.15 426.35 676.03 426.94 636.5 426.95 634.12 427.67 717.3 427.82 702.47 428.65 674.4 428.7 672.68 429.21 721.05 429.58 716.49 430.41 673.65 430.46 657.78 431.14 702.89 431.33 707.73 431.72 693.57 432.21 683.19 432.81 711.92 433.09 718.24 434.84 712.99 436.95 686.7 438 720 439.3 713.71 439.8 704.37 440.3 703.02 440.8 710.02 441.3 718.28 441.8 725.11 442.3 724.34 442.8 721.38 443.3 719.1 443.8 718.01 444.3 718.53 444.8 720.3 445.3 720.34 445.8 718.94 446.3 717.18 446.8 715.39 447.3 715.31 447.8 716.24 448.3 720.38 448.8 724.63 449.3 724.94 449.8 723.69 450.3 722.62 450.8 721.48 451.3 719.32 451.8 718.29 452.3 717.6 452.8 718.33 453.3 718.95 453.8 717.8 454.3 718.06 454.8 720.56 455.3 718.87 455.8 717.34 456.3 718.06 456.8 720.98 457.3 722.89 457.8 722.84 458.3 723.51 458.8 724.97 459.3 724.64 459.8 722.84 460.3 722.55 460.8 723.03 461.3 723.72 461.8 724.12 462.3 722.28 462.8 721.15 463.3 722.21 463.8 722.26 464.3 720.9 464.8 722.45 465.3 722.79 465.8 722.23 466.3 724.37 466.8 722.47 467.3 721.81 467.8 722.48 468.3 723.64 468.8 723.6 469.3 723.98 469.8 723.79 470.3 723.61 470.8 723.33 471.3 724.24 471.8 724.9 472.3 723.74 472.8 722.51 473.3 722.88 473.8 724.26 474.3 724.61 474.8 724.27 475.3 723.92 475.8 722.91 476.3 722.08 476.8 721.94 477.3 722.69 477.8 722.94 478.3 722.61 478.8 721.17 479.3 719.91 479.8 720.44 480.3 722.66 480.8 724.5 481.3 724.14 481.8 723.34 482.3 723.52 482.8 724.61 483.3 724.7 483.8 725.01 484.3 724.6 484.8 724.22 485.3 723.88 485.8 723.84 486.3 724.81 486.8 724.81 487.3 724.88 487.8 725.23 488.3 724.11 488.8 723.6 489.3 724.36 489.8 725.12 490.3 724.58 490.8 723.48 491.3 722.99 491.8 723.15 492.3 723.29 492.8 723.47 493.3 723.68 493.8 724.55 494.3 724.98 494.8 724.08 495.3 723.24 495.8 723.2 496.3 723.56 496.8 724.18 497.3 724.96 497.8 725.38 498.3 725.35 498.8 725.35 499.3 725.57 499.8 725.35 500.3 724.67 500.8 724.03 501.3 723.92 501.8 724.5 502.3 724.09 502.8 723.56 503.3 723.46 503.8 723.37 504.3 723.81 504.8 723.98 505.3 724.08 505.8 724.51 506.3 725.43 506.8 724.44 507.3 723.69 507.8 723.85 508.3 724.99 508.8 724.54 509.3 724.22 509.8 722.99 510.3 722.57 510.8 722.59 511.3 723.5 511.8 724.13 512.3 723.83 512.8 724.15 513.3 724.36 513.8 723.74 514.3 723.18 514.8 723.77 515.3 723.72 515.8 723.46 516.3 723.49 516.8 723.73 517.3 724.11 517.8 724.47 518.3 724.57 518.8 725 519.3 725.16 519.8 725.3 520.3 724.63 520.8 724.23 521.3 724.95 521.8 724.94 522.3 724.54 522.8 724.18 523.3 723.85 523.8 724.52 524.3 725.14 524.8 725 525.3 724.81 525.8 725.31 526.3 725.46 526.8 725.31 527.3 725.21 527.8 725.1 528.3 724.41 528.8 723.87 529.3 724 529.8 724.26 530.3 724.92 530.8 724.94 531.3 723.82 531.8 724.12 532.3 724.82 532.8 723.97 533.3 725.15 533.8 724.12 534.3 724.14 534.8 724.89 535.3 724.19 535.8 723.78 536.3 723.92 536.8 724.42 537.3 724.68 537.8 725 538.3 724.97 538.8 725.55 539.3 725.17 539.8 725.18 540.3 725 540.8 724.81 541.3 725.15 541.8 725.11" stroke="#f00" stroke-width="1.0" fill="none" stroke-linejoin="round"/></g>
<path d="M398.9 526.9H684.9" stroke="#8a8a8a" stroke-width="1.5" fill="none"/>
<path d="M684.4 526.9V726.3" stroke="#555" stroke-width="1" fill="none"/>
<path d="M399.4 526.9V726.3M398.9 726.3H684.9" stroke="#333" stroke-width="1" fill="none"/>
<path d="M399.4 726.3v3.5M437.4 726.3v3.5M475.4 726.3v3.5M513.4 726.3v3.5M551.4 726.3v3.5M589.4 726.3v3.5M627.4 726.3v3.5M665.4 726.3v3.5M418.4 726.3v2M456.4 726.3v2M494.4 726.3v2M532.4 726.3v2M570.4 726.3v2M608.4 726.3v2M646.4 726.3v2M684.4 726.3v2M399.4 726.3h-4M399.4 686.42h-4M399.4 646.54h-4M399.4 606.66h-4M399.4 566.78h-4M399.4 526.9h-4M399.4 706.36h-2M399.4 666.48h-2M399.4 626.6h-2M399.4 586.72h-2M399.4 546.84h-2" stroke="#333" stroke-width="1" fill="none"/>
<text x="399.4" y="743.1" class="tk" style="font-size:14px" text-anchor="middle">0</text>
<text x="437.4" y="743.1" class="tk" style="font-size:14px" text-anchor="middle">4</text>
<text x="475.4" y="743.1" class="tk" style="font-size:14px" text-anchor="middle">8</text>
<text x="513.4" y="743.1" class="tk" style="font-size:14px" text-anchor="middle">12</text>
<text x="551.4" y="743.1" class="tk" style="font-size:14px" text-anchor="middle">16</text>
<text x="589.4" y="743.1" class="tk" style="font-size:14px" text-anchor="middle">20</text>
<text x="627.4" y="743.1" class="tk" style="font-size:14px" text-anchor="middle">24</text>
<text x="665.4" y="743.1" class="tk" style="font-size:14px" text-anchor="middle">28</text>
<text x="393.4" y="731.1" class="tk" style="font-size:14px" text-anchor="end">0</text>
<text x="393.4" y="691.22" class="tk" style="font-size:14px" text-anchor="end">2</text>
<text x="393.4" y="651.34" class="tk" style="font-size:14px" text-anchor="end">4</text>
<text x="393.4" y="611.46" class="tk" style="font-size:14px" text-anchor="end">6</text>
<text x="393.4" y="571.58" class="tk" style="font-size:14px" text-anchor="end">8</text>
<text x="393.4" y="531.7" class="tk" style="font-size:14px" text-anchor="end">10</text>
<text x="541.9" y="764.6" class="ax" style="font-size:13.8px" text-anchor="middle">Frequency (Hz)</text>
<text transform="translate(375.7 626.6) rotate(-90)" class="ax" style="font-size:13.65px" text-anchor="middle">Amplitude (×10<tspan font-size="9.55" dy="-5.05">−4</tspan><tspan dy="5.05"> g rms)</tspan></text>
<clipPath id="c6"><rect x="36.6" y="784.9" width="284.9" height="201"/></clipPath>
<path d="M74.59 785.9V985.4M112.57 785.9V985.4M150.56 785.9V985.4M188.55 785.9V985.4M226.53 785.9V985.4M264.52 785.9V985.4M302.51 785.9V985.4M36.6 941.07H321.5M36.6 896.73H321.5M36.6 852.4H321.5M36.6 808.07H321.5" stroke="#c6c6c6" stroke-width="1" fill="none"/>
<text x="39.8" y="801.5" class="lg" style="font-size:14.5px" textLength="80.6" lengthAdjust="spacingAndGlyphs">Ramageranch</text>
<path d="M212.9 797.7H243.5" stroke="#333" stroke-width="1.1"/>
<path d="M212.9 814H243.5" stroke="#f22" stroke-width="1.0"/>
<text x="247.2" y="803.1" class="lg" style="font-size:14px" textLength="70" lengthAdjust="spacingAndGlyphs">Non-isolated</text>
<text x="247.2" y="819.4" class="lg" style="font-size:14px" textLength="43.2" lengthAdjust="spacingAndGlyphs">Isolated</text>
<g clip-path="url(#c6)"><path d="M36.85 985.01 38.7 981.31 39.45 978.95 39.95 972.87 40.45 970.23 40.56 966.51 40.95 973.49 41.45 971.6 41.95 972.08 42.45 979.4 42.95 976.37 43.45 967.74 43.89 948.01 43.95 953.76 44.45 962.6 44.95 967.05 45.45 966.76 45.95 950.5 46.45 934.47 46.67 878.63 46.95 939.79 47.45 948.78 47.95 952.72 48.45 951.32 48.95 958.76 49.44 933.21 49.45 959.16 49.95 953.83 50.45 966.57 50.94 969.73 51.44 974.53 51.94 972.25 52.44 973.08 52.94 968.66 53.44 967.44 53.94 954.17 54.44 950.74 54.44 935.06 54.94 964.48 55.44 969.83 55.94 972.93 56.44 970.32 56.94 977.84 57.44 973.19 57.94 953.01 58.44 953.1 58.94 938.29 59.44 940.76 59.44 914.71 59.94 953.43 60.44 954.77 60.94 941.85 61.44 964.96 61.94 965.93 62.44 956.72 62.94 960.98 63.44 956.01 63.94 933.49 64.26 929.51 64.44 934.68 64.94 948.96 65.44 970.39 65.94 975.14 66.44 968.62 66.85 951.71 66.94 964.37 67.44 967.06 67.94 977.91 68.44 981.28 68.94 978.03 69.44 976.05 69.94 968.49 70.44 966.45 70.94 963.48 71.44 950.95 71.94 950.2 72.04 940.61 72.44 963.16 72.94 966.54 73.44 972.83 73.94 979.53 74.44 970.09 74.94 969.76 75.44 972.42 75.94 967.05 76.44 956.01 76.94 931.65 77.22 909.16 77.44 934.24 77.94 950.9 78.44 946.54 78.94 937.73 79.43 951.42 79.93 961.8 80.43 968.83 80.93 962.89 81.43 958.21 81.93 954.01 82.43 945.6 82.78 934.14 82.93 955.59 83.43 961.25 83.93 960.11 84.43 965.78 84.93 964.84 85.43 967.79 85.93 958.69 86.43 958.75 86.93 960.09 87.43 957.25 87.78 940.61 87.93 956.54 88.43 953.03 88.93 970.02 89.43 973.86 89.93 974.11 90.43 967.92 90.93 962.8 91.43 960.26 91.48 948.01 91.93 963.3 92.43 968.79 92.93 963.93 93.43 971.62 93.93 973.99 94.43 974.9 94.93 973.66 95.43 961.92 95.93 964.14 96.43 959.78 96.93 953 97.43 949.24 97.59 925.81 97.93 943.21 98.43 950.92 98.93 961.01 99.43 971.51 99.93 965.63 100.43 968.22 100.93 972.76 101.43 965.48 101.93 971.32 102.43 978.65 102.93 974.49 103.43 972.62 103.93 966.37 104.43 963.7 104.44 951.71 104.93 964.05 105.43 964.55 105.93 971.87 106.43 972.71 106.93 967.12 107.43 973.03 107.92 969.82 108.42 968.21 108.92 964.35 109.42 962.92 109.92 962.26 110 946.16 110.42 962.99 110.92 957.42 111.42 967 111.92 965.07 112.42 962.31 112.92 948.95 113.42 936.22 113.92 943.89 114.01 932.19 114.42 943.41 114.92 960.88 115.42 977.24 115.92 977.15 116.42 974.71 116.92 965.95 117.23 963.51 117.42 965.46 117.92 976 118.42 979.51 118.92 981.76 119.42 976.96 119.92 972.94 120.42 970.49 120.92 972.01 121.24 954.67 121.42 969.23 121.92 970.09 122.42 968.91 122.92 974.68 123.42 974.25 123.92 975.82 124.42 973.55 124.92 972.55 125.42 971.57 125.92 964.05 126.42 961.54 126.92 954.9 127.42 955.5 127.92 967.18 128.42 969.18 128.47 953.87 128.92 971.36 129.42 975.82 129.92 979.34 130.42 974.8 130.92 971.36 131.42 966.3 131.92 966.7 132.42 953.63 132.92 955.01 132.96 939.42 133.42 959.4 133.92 966.67 134.42 964.49 134.92 966.28 135.42 958.46 135.92 954.75 136.41 961.83 136.91 958.75 137.41 969.13 137.91 975.63 138.41 975.53 138.91 979.06 139.41 978.08 139.91 981.38 140.41 978.46 140.91 978.74 141.41 978.9 141.91 973.56 142.41 972.75 142.91 974.25 143.41 973.41 143.91 975.75 144.41 973.52 144.91 967.67 145.41 970.91 145.91 974.42 146.41 972.61 146.61 957.08 146.91 970.24 147.41 967.71 147.91 970.41 148.41 976.55 148.91 972.24 149.41 969.99 149.83 957.89 149.91 964.99 150.41 968.75 150.91 977.33 151.41 980.9 151.91 980.45 152.41 968.46 152.91 957.28 153.41 952.8 153.91 948.94 154.16 928.98 154.41 945.27 154.91 948.74 155.41 961.25 155.91 957.97 156.41 959.56 156.91 968.78 157.41 969.96 157.91 960.52 158.41 943.42 158.91 939.17 159.41 934.59 159.46 897.34 159.91 925.33 160.41 936.31 160.91 945.3 161.41 958.12 161.91 960.95 162.41 971.5 162.91 972.95 163.41 961.26 163.91 961.58 164.28 937.01 164.41 957.17 164.9 955.25 165.4 962.86 165.9 967.55 166.4 975.24 166.9 976.13 167.4 975.85 167.9 971.1 168.4 973.74 168.62 968.33 168.9 972.2 169.4 971.9 169.9 974.01 170.4 978.52 170.9 977.84 171.4 976.72 171.9 977.62 172.4 974.57 172.9 971.91 173.4 963.8 173.43 957.08 173.9 971.33 174.4 975.25 174.9 982.85 175.4 981.19 175.9 976.23 176.4 976.37 176.9 966.53 177.4 962.92 177.9 961.53 178.4 957.82 178.9 959.66 179.4 964.38 179.9 969.18 180.4 962.13 180.9 967.79 181.4 960.7 181.46 942.63 181.9 962.59 182.4 967.63 182.9 958.14 183.4 955.97 183.9 954.72 184.4 965.86 184.9 963.53 185.4 965.29 185.9 961.52 186.4 958.06 186.9 958.93 187.4 954.75 187.9 957.07 188.4 963.29 188.9 949.86 189.17 941.83 189.4 956.69 189.9 970.47 190.4 960.74 190.9 970.23 191.4 972.85 191.9 974.88 192.4 966.44 192.7 955.48 192.9 961.36 193.39 960.46 193.89 964.22 194.39 969.31 194.89 966.19 195.39 959.15 195.89 963.68 196.39 958.81 196.4 944.24 196.89 961.08 197.39 966.63 197.89 975.75 198.39 975.68 198.89 975.98 199.39 978.89 199.89 979.34 200.39 978.71 200.89 978.82 201.39 980.28 202.32 965.68 202.82 967.44 203.32 969.45 203.82 971.5 204.32 973.09 204.82 975.29 205.32 978.67 205.82 981.52 206.32 978.26 206.82 974.68 207.32 969.6 207.81 966.1 208.31 970.88 208.81 977.86 209.31 969.86 209.81 965.69 210.31 968.82 210.81 972.49 211.31 971.35 211.81 969.9 212.31 971.09 212.81 970.16 213.31 967.87 213.81 967.71 214.31 968.62 214.81 973.03 215.31 978.71 215.81 971.35 216.31 962.26 216.81 961.18 217.31 966.94 217.81 974.31 218.31 977.89 218.81 973.29 219.31 968.17 219.81 971.28 220.31 978.66 220.81 968.48 221.31 962.63 221.78 955.25 221.81 955.65 222.31 964.79 222.81 972.07 223.31 973.5 223.81 974.49 224.31 977.66 224.81 976 225.31 973.51 225.81 967.74 226.31 963.74 226.81 965.05 227.31 959.16 227.48 955.92 227.81 962.64 228.31 971.03 228.81 969.22 229.31 970.17 229.81 970.37 230.31 970.58 230.81 974.33 231.31 976.24 231.81 967.58 232.31 967.88 232.81 973.3 233.31 974.43 233.81 978.91 234.31 975.55 234.81 966.13 235.31 961.57 235.81 964.84 236.3 970.51 236.8 968.25 237.3 971.13 237.8 972.64 238.3 970.18 238.8 966.74 239.3 963.84 239.8 963.17 240.3 963.76 240.8 971.31 241.3 975.93 241.8 970.45 242.3 972.59 242.8 978.18 243.3 974.48 243.8 966.63 244.3 967.38 244.8 977.2 245.3 972.98 245.8 962.34 246.3 958.85 246.8 963.32 247.3 972.28 247.8 976.07 248.3 975.4 248.8 976.26 249.3 972.14 249.8 969.76 250.3 968.26 250.8 969.07 251.3 972 251.8 976.02 252.3 978.95 252.8 980.15 253.3 980.92 253.8 976.16 254.3 976.09 254.8 971.22 255.3 957.7 255.8 956.01 256.3 956.48 256.8 961.5 257.3 966.54 257.8 969.65 258.3 973.73 258.8 965.43 259.3 965.87 259.8 976.39 260.3 965.18 260.72 955.92 260.8 957.22 261.3 962.07 261.8 958.83 262.3 956.92 262.8 957.25 263.3 959.53 263.8 961.87 264.3 960.98 264.79 958.32 265.29 962.82 265.79 972.46 266.29 973.17 266.79 975.34 267.29 971.18 267.79 964.43 268.29 960.94 268.79 958.22 269.29 957.25 269.79 959.76 270.29 968.27 270.79 978.96 271.29 973.39 271.79 970.14 272.29 974.8 272.79 977.89 273.29 974.07 273.79 974.09 274.29 977.48 274.79 977.36 275.29 970.97 275.79 965.26 276.29 969.83 276.79 979.22 277.29 967.7 277.79 965.67 278.29 963.15 278.76 954.37 278.79 954.87 279.29 966.58 279.79 973.82 280.29 965.27 280.79 966.33 281.29 971.67 281.79 972.5 282.29 971.71 282.79 974.34 283.29 977.37 283.79 969.54 284.29 961.86 284.79 963.66 285.29 967.04 285.79 960.36 286.29 959.9 286.79 960.17 287.29 961.58 287.79 960.57 288.29 963.19 288.79 973.96 289.29 976.05 289.79 971.4 290.29 970.32 290.79 965.94 291.29 964.39 291.79 967.1 292.29 968.63 292.79 972.1 293.28 977.26 293.78 979.43 294.28 980.87 294.78 977.18 295.28 972.04 295.78 971.7 296.28 973.08 296.78 973.18 297.28 975.28 297.78 978.65 298.28 977.48 298.78 976.26 299.28 977.09 299.78 978.92 300.28 981.08 300.78 976.67 301.28 971.83 301.78 973.03 302.28 977.46 302.78 982.42 303.28 976.02 303.78 971.92 304.28 971.57 304.78 972.91 305.28 973.48 305.78 970.48 306.28 966.72 306.78 967.05 307.28 970.96 307.78 973.64 308.28 974.15 308.78 973.61 309.28 973.35 309.78 975.02 310.28 976.87 310.78 976.38 311.28 976.38 311.78 979.05 312.28 977.86 312.78 971.92 313.28 971.56 313.78 976.3 314.28 979.91 314.78 977.54 315.28 972.45 315.78 969.01 316.28 971.38 316.78 978.36 317.28 981.48 317.78 976.91 318.28 969.94 318.78 968.45 319.28 972.16 319.78 978.99 320.28 981.4 320.78 979.12 321.28 981.1" stroke="#000" stroke-width="1.0" fill="none" stroke-linejoin="round"/><path d="M36.85 977.61 38.7 985.01 42.41 981.31 44.2 971.78 44.7 969.11 45.19 966.51 45.2 968.39 45.7 978.15 46.2 976.71 46.7 980.21 47.2 980.71 47.7 975.4 48.2 970.67 48.7 973.14 48.89 960.96 49.2 974.83 49.7 976.61 50.2 968.23 50.7 966.61 51.19 946.22 51.3 923.03 51.69 938.42 52.19 959.05 52.69 967.08 53.19 961.8 53.69 955.95 53.89 929.51 54.19 949.45 54.69 968.3 55.19 966.83 55.69 962.06 56.19 959.71 56.69 938.48 57.49 876.78 57.97 907.82 58.35 859.27 58.82 892.3 59.39 870.13 59.87 896.73 60.34 852.4 60.82 874.57 61.29 809.4 61.67 830.23 62.05 845.75 62.43 890.08 62.81 918.9 63.19 931.66 63.69 935.9 64.19 946.06 64.69 962.2 65.19 977.57 65.69 956.2 66.11 933.21 66.19 951.79 66.69 949.36 67.19 961.74 67.69 955.09 68.19 975.08 68.69 964.19 69.19 962.67 69.44 925.81 69.69 945.74 70.19 958.85 70.69 971.59 71.67 966.51 71.74 973.89 72.24 973.48 72.74 974.16 73.24 974.69 73.74 975.64 74.24 979.21 74.74 980.13 75.24 980.53 75.74 979.31 76.24 977.89 76.74 978.75 77.24 980.34 77.74 980.93 78.24 980.91 78.74 980.75 79.24 981.59 79.73 982.27 80.23 983.48 80.73 982.5 81.23 982.07 81.73 983.47 82.23 980.3 82.73 979.16 83.23 980.85 83.73 980.99 84.23 980.06 84.73 981.83 85.23 982.78 85.73 982.67 86.23 980.24 86.73 976.3 87.23 976.86 87.73 982.73 88.23 980.49 88.73 982.81 89.23 984.43 89.73 984.46 90.23 984.17 90.73 983.64 91.23 983.24 91.73 983.14 92.23 983.32 92.73 984.58 93.23 983.77 93.73 983.51 94.23 983.39 94.73 983.28 95.23 983.4 95.73 983.51 96.23 983.56 96.73 984.21 97.23 984.41 97.73 983.81 98.23 983.82 98.73 983.93 99.23 983.15 99.73 983.39 100.23 983.73 100.73 983.88 101.23 982.1 101.73 981.65 102.23 983.04 102.73 981.92 103.23 981.15 103.73 980.21 104.23 979.78 104.73 981.28 105.23 983.46 105.73 982.36 106.23 979.31 106.73 978.62 107.23 980.07 107.73 982.32 108.22 981.83 108.72 982.28 109.22 983.2 109.72 983.45 110.22 982.7 110.72 982.6 111.22 983.65 111.72 983.65 112.22 982.12 112.72 982.23 113.22 982.42 113.72 983.91 114.22 983.4 114.72 982.69 115.22 982.49 115.72 980.55 116.22 979.91 116.72 981.48 117.22 983.3 117.72 983.92 118.22 981.66 118.72 981.11 119.22 982.07 119.72 984.37 120.22 983.04 120.72 982.65 121.22 982.59 121.72 982.89 122.22 984.2 122.72 984.24 123.22 983.53 123.72 983.1 124.22 983.35 124.72 983.67 125.22 983.98 125.72 984.22 126.22 983.52 126.72 983.6 127.22 984.05 127.72 983.98 128.22 982.96 128.72 983.46 129.22 984.14 129.72 983.97 130.22 982.77 130.72 981.84 131.22 981.92 131.72 982.19 132.22 982.99 132.72 982.67 133.22 982.17 133.72 982.42 134.22 982.34 134.72 982.02 135.22 982.62 135.72 983.48 136.22 983.46 136.71 983.01 137.21 982.05 137.71 981.8 138.21 983.33 138.71 981.48 139.21 979.99 139.71 980.94 140.21 982.41 140.71 983.11 141.21 982.29 141.71 981.53 142.21 981.12 142.71 980.83 143.21 980.5 143.71 981.89 144.21 982.38 144.71 982.55 145.21 983.97 145.71 983 146.21 981.99 146.71 982.74 147.21 983.58 147.71 983.61 148.21 984.01 148.71 983.23 149.21 983.49 149.71 982.67 150.21 982.45 150.71 982.82 151.21 982.65 151.71 982.57 152.21 982.48 152.71 982.94 153.21 982.93 153.71 982.98 154.21 983.88 154.71 984.47 155.21 983.65 155.71 982.4 156.21 982.29 156.71 983.57 157.21 981.64 157.71 981.63 158.21 982.43 158.71 983.13 159.21 983.86 159.71 983.49 160.21 984.15 160.71 984.04 161.21 982.77 161.71 981.95 162.21 980.61 162.71 980.56 163.21 981.36 163.71 982.01 164.21 982.93 164.71 982.43 165.2 982.01 165.7 982.2 166.2 980.43 166.7 981.37 167.2 982.21 167.7 982.09 168.2 983.36 168.7 982.84 169.2 983.01 169.7 983.74 170.2 983.74 170.7 983.79 171.2 983.09 171.7 982.49 172.2 982.95 172.7 984.02 173.2 984.18 173.7 983.67 174.2 983.09 174.7 983.48 175.2 983.19 175.7 981.8 176.2 982.06 176.7 983.32 177.2 982.84 177.7 981.69 178.2 981.68 178.7 982.32 179.25 983.09" stroke="#f00" stroke-width="1.0" fill="none" stroke-linejoin="round"/></g>
<path d="M36.1 785.9H322" stroke="#8a8a8a" stroke-width="1.5" fill="none"/>
<path d="M321.5 785.9V985.4" stroke="#555" stroke-width="1" fill="none"/>
<path d="M36.6 785.9V985.4M36.1 985.4H322" stroke="#333" stroke-width="1" fill="none"/>
<path d="M36.6 985.4v3.5M74.59 985.4v3.5M112.57 985.4v3.5M150.56 985.4v3.5M188.55 985.4v3.5M226.53 985.4v3.5M264.52 985.4v3.5M302.51 985.4v3.5M55.59 985.4v2M93.58 985.4v2M131.57 985.4v2M169.55 985.4v2M207.54 985.4v2M245.53 985.4v2M283.51 985.4v2M321.5 985.4v2M36.6 985.4h-4M36.6 941.07h-4M36.6 896.73h-4M36.6 852.4h-4M36.6 808.07h-4M36.6 963.23h-2M36.6 918.9h-2M36.6 874.57h-2M36.6 830.23h-2M36.6 785.9h-2" stroke="#333" stroke-width="1" fill="none"/>
<text x="36.6" y="1002.2" class="tk" style="font-size:14px" text-anchor="middle">0</text>
<text x="74.59" y="1002.2" class="tk" style="font-size:14px" text-anchor="middle">4</text>
<text x="112.57" y="1002.2" class="tk" style="font-size:14px" text-anchor="middle">8</text>
<text x="150.56" y="1002.2" class="tk" style="font-size:14px" text-anchor="middle">12</text>
<text x="188.55" y="1002.2" class="tk" style="font-size:14px" text-anchor="middle">16</text>
<text x="226.53" y="1002.2" class="tk" style="font-size:14px" text-anchor="middle">20</text>
<text x="264.52" y="1002.2" class="tk" style="font-size:14px" text-anchor="middle">24</text>
<text x="302.51" y="1002.2" class="tk" style="font-size:14px" text-anchor="middle">28</text>
<text x="30.6" y="990.2" class="tk" style="font-size:14px" text-anchor="end">0</text>
<text x="30.6" y="945.87" class="tk" style="font-size:14px" text-anchor="end">2</text>
<text x="30.6" y="901.53" class="tk" style="font-size:14px" text-anchor="end">4</text>
<text x="30.6" y="857.2" class="tk" style="font-size:14px" text-anchor="end">6</text>
<text x="30.6" y="812.87" class="tk" style="font-size:14px" text-anchor="end">8</text>
<text x="179.05" y="1023.7" class="ax" style="font-size:13.8px" text-anchor="middle">Frequency (Hz)</text>
<text transform="translate(20.2 885.65) rotate(-90)" class="ax" style="font-size:13.65px" text-anchor="middle">Amplitude (×10<tspan font-size="9.55" dy="-5.05">−4</tspan><tspan dy="5.05"> g rms)</tspan></text>
<rect x="663.7" y="455" width="22" height="16" fill="#fff"/>
</svg>
</body></html>
